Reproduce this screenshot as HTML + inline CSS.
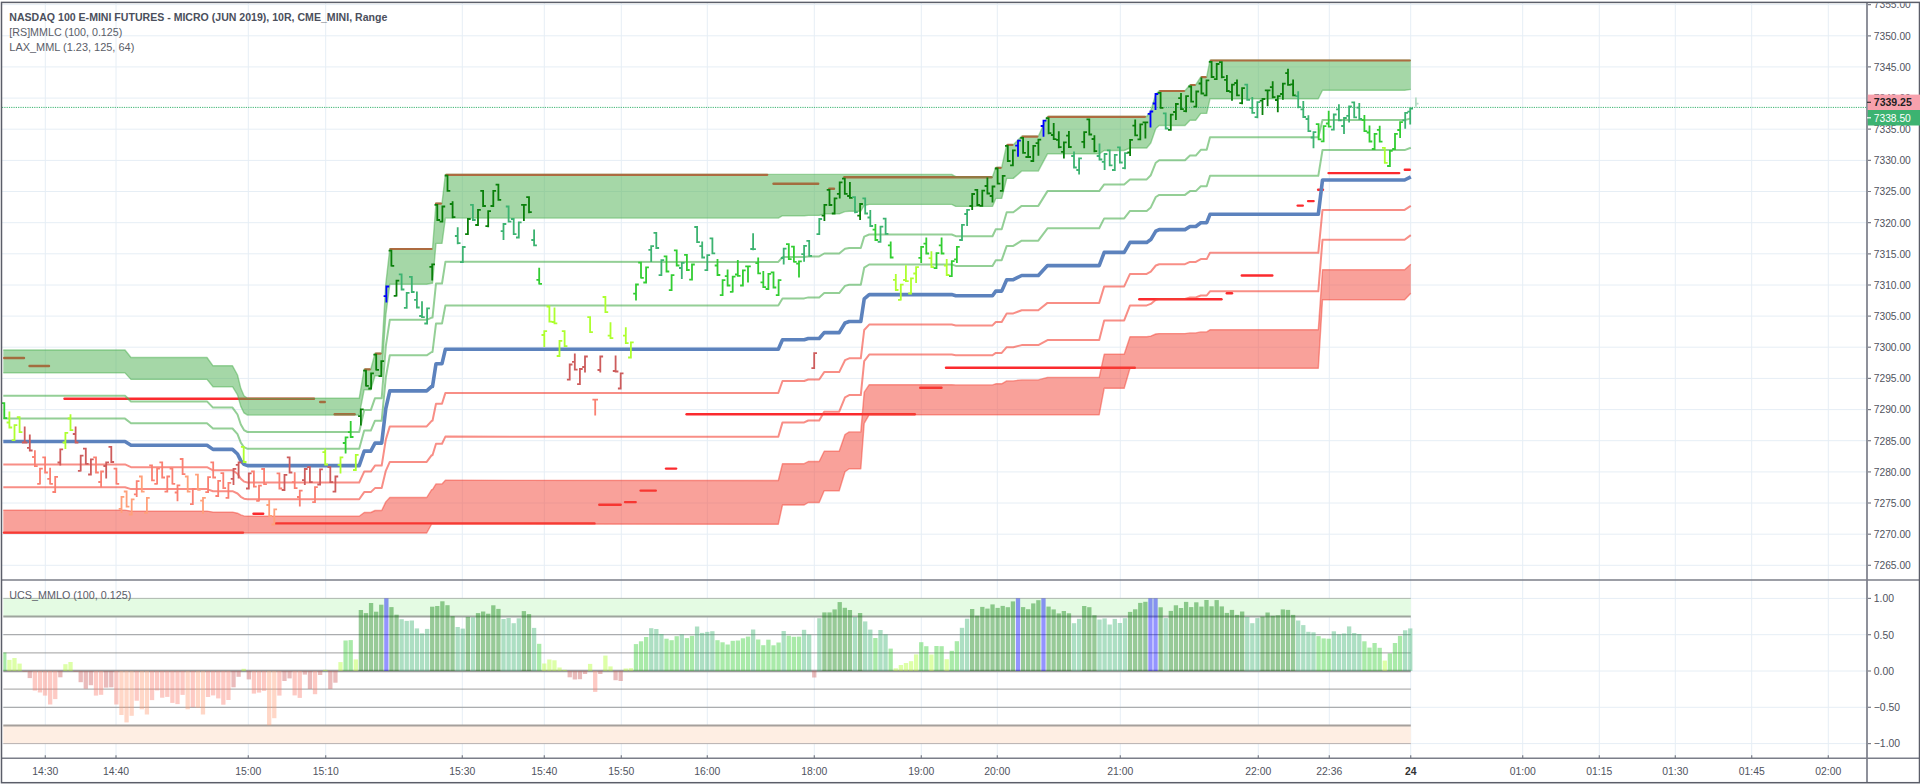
<!DOCTYPE html>
<html><head><meta charset="utf-8"><title>NASDAQ 100 E-MINI FUTURES chart</title>
<style>html,body{margin:0;padding:0;background:#fff;overflow:hidden}body{width:1920px;height:784px}</style></head>
<body>
<svg width="1920" height="784" viewBox="0 0 1920 784" style="display:block;font-family:'Liberation Sans',sans-serif">
<rect width="1920" height="784" fill="#fff"/>
<g stroke="#e6eef5" stroke-width="1" fill="none">
<path d="M45.3 3V758.2"/>
<path d="M116.0 3V758.2"/>
<path d="M248.3 3V758.2"/>
<path d="M325.7 3V758.2"/>
<path d="M462.3 3V758.2"/>
<path d="M544.3 3V758.2"/>
<path d="M621.3 3V758.2"/>
<path d="M707.3 3V758.2"/>
<path d="M814.3 3V758.2"/>
<path d="M921.3 3V758.2"/>
<path d="M997.3 3V758.2"/>
<path d="M1120.3 3V758.2"/>
<path d="M1258.3 3V758.2"/>
<path d="M1329.3 3V758.2"/>
<path d="M1410.7 3V758.2"/>
<path d="M1522.7 3V758.2"/>
<path d="M1599.3 3V758.2"/>
<path d="M1675.3 3V758.2"/>
<path d="M1751.7 3V758.2"/>
<path d="M1828.3 3V758.2"/>
<path d="M2 565.3H1867.0"/>
<path d="M2 534.2H1867.0"/>
<path d="M2 503.0H1867.0"/>
<path d="M2 471.9H1867.0"/>
<path d="M2 440.7H1867.0"/>
<path d="M2 409.6H1867.0"/>
<path d="M2 378.4H1867.0"/>
<path d="M2 347.2H1867.0"/>
<path d="M2 316.1H1867.0"/>
<path d="M2 285.0H1867.0"/>
<path d="M2 253.8H1867.0"/>
<path d="M2 222.7H1867.0"/>
<path d="M2 191.5H1867.0"/>
<path d="M2 160.4H1867.0"/>
<path d="M2 129.2H1867.0"/>
<path d="M2 98.1H1867.0"/>
<path d="M2 66.9H1867.0"/>
<path d="M2 35.8H1867.0"/>
<path d="M2 4.6H1867.0"/>
<path d="M2 598.4H1867.0"/>
<path d="M2 634.7H1867.0"/>
<path d="M2 671.0H1867.0"/>
<path d="M2 707.3H1867.0"/>
<path d="M2 743.6H1867.0"/>
</g>
<g id="main">
<g stroke="#fb2a2e" stroke-width="2.4" stroke-linecap="round" fill="none">
<path d="M4.3 358.0H24.0"/>
<path d="M29.5 366.0H49.0"/>
<path d="M64.5 398.7H314.0"/>
<path d="M320.2 402.0H324.8"/>
<path d="M334.7 414.2H354.6"/>
<path d="M773.5 183.7H818.2"/>
<path d="M829.3 188.8H834.0"/>
<path d="M844.3 177.2H991.5"/>
<path d="M4.0 532.6H243.0"/>
<path d="M253.5 513.8H263.2"/>
<path d="M276.0 523.4H594.5"/>
<path d="M599.3 504.8H620.7"/>
<path d="M625.0 502.1H635.7"/>
<path d="M640.6 490.6H655.8"/>
<path d="M666.0 468.6H676.1"/>
<path d="M686.6 414.3H914.8"/>
<path d="M920.2 387.8H941.5"/>
<path d="M946.0 367.8H1134.8"/>
<path d="M1139.3 299.2H1221.5"/>
<path d="M1226.8 293.3H1232.0"/>
<path d="M1241.8 275.5H1272.3"/>
<path d="M1297.7 205.6H1302.8"/>
<path d="M1308.1 201.1H1313.6"/>
<path d="M1318.1 189.8H1323.0"/>
<path d="M1328.5 173.1H1399.2"/>
<path d="M1404.8 169.8H1409.8"/>
</g>
<polygon points="3.3,350.0 125.0,350.0 131.0,357.5 207.0,357.5 213.0,365.8 232.5,365.8 237.5,375.0 240.8,388.3 244.0,395.8 247.5,398.3 359.2,398.3 364.2,369.2 370.8,369.2 375.0,353.3 381.7,353.3 385.8,284.0 389.8,248.8 426.7,248.8 431.7,248.8 432.5,248.8 436.0,203.3 442.0,203.3 445.4,174.4 778.3,174.4 782.5,174.4 804.2,174.4 808.3,174.4 819.2,174.4 824.2,174.4 839.2,174.4 845.0,174.4 849.2,174.4 860.8,174.4 864.2,174.4 869.2,174.4 951.7,174.4 955.8,176.7 992.5,176.7 995.8,167.5 1001.7,167.5 1006.7,144.7 1013.3,144.7 1021.7,136.3 1038.3,136.3 1047.5,116.5 1099.2,116.5 1104.2,116.5 1124.2,116.5 1130.0,116.5 1146.7,116.5 1150.8,110.8 1155.8,94.2 1159.2,90.8 1185.0,90.8 1190.0,84.7 1195.8,84.7 1200.8,77.0 1206.7,77.0 1210.0,60.3 1318.3,60.3 1322.5,60.3 1404.6,60.3 1410.8,60.3 1410.8,89.4 1404.6,90.2 1322.5,90.2 1318.3,98.8 1210.0,98.8 1206.7,113.4 1200.8,113.4 1195.8,120.2 1190.0,120.2 1185.0,125.5 1159.2,125.5 1155.8,128.5 1150.8,143.0 1146.7,148.0 1130.0,148.0 1124.2,150.5 1104.2,150.5 1099.2,153.8 1047.5,153.8 1038.3,171.1 1021.7,171.1 1013.3,178.4 1006.7,178.4 1001.7,198.4 995.8,198.4 992.5,206.4 955.8,206.4 951.7,204.4 869.2,204.4 864.2,205.5 860.8,211.2 849.2,211.2 845.0,211.6 839.2,213.9 824.2,213.9 819.2,215.4 808.3,215.4 804.2,215.7 782.5,215.7 778.3,218.1 445.4,218.1 442.0,243.4 436.0,243.4 432.5,283.2 431.7,283.2 426.7,284.3 389.8,284.3 385.8,315.1 381.7,375.8 375.0,375.8 370.8,389.7 364.2,389.7 359.2,415.1 247.5,415.1 244.0,412.9 240.8,406.4 237.5,394.8 232.5,386.7 213.0,386.7 207.0,379.4 131.0,379.4 125.0,372.9 3.3,372.9" fill="rgba(76,175,80,0.5)"/>
<polygon points="3.3,510.1 125.0,510.1 131.0,511.1 207.0,511.1 213.0,512.1 232.5,512.1 237.5,513.2 240.8,514.9 244.0,515.9 247.5,516.2 359.2,516.2 364.2,512.5 370.8,512.5 375.0,510.5 381.7,510.5 385.8,501.9 389.8,497.5 426.7,497.5 431.7,489.6 432.5,489.6 436.0,483.9 442.0,483.9 445.4,480.3 778.3,480.5 782.5,463.7 804.2,463.7 808.3,461.5 819.2,461.5 824.2,451.2 839.2,451.2 845.0,434.5 849.2,431.9 860.8,431.9 864.2,392.2 869.2,384.7 951.7,384.7 955.8,384.9 992.5,384.9 995.8,383.8 1001.7,383.8 1006.7,380.9 1013.3,380.9 1021.7,379.9 1038.3,379.9 1047.5,377.4 1099.2,377.4 1104.2,354.3 1124.2,354.3 1130.0,336.8 1146.7,336.8 1150.8,336.1 1155.8,334.0 1159.2,333.6 1185.0,333.6 1190.0,332.9 1195.8,332.9 1200.8,331.9 1206.7,331.9 1210.0,329.8 1318.3,329.8 1322.5,269.8 1404.6,269.8 1410.8,264.2 1410.8,293.3 1404.6,299.7 1322.5,299.7 1318.3,368.3 1210.0,368.3 1206.7,368.3 1200.8,368.3 1195.8,368.3 1190.0,368.3 1185.0,368.3 1159.2,368.3 1155.8,368.3 1150.8,368.3 1146.7,368.3 1130.0,368.3 1124.2,388.3 1104.2,388.3 1099.2,414.7 1047.5,414.7 1038.3,414.7 1021.7,414.7 1013.3,414.7 1006.7,414.7 1001.7,414.7 995.8,414.7 992.5,414.7 955.8,414.7 951.7,414.7 869.2,414.7 864.2,423.3 860.8,468.7 849.2,468.7 845.0,471.7 839.2,490.8 824.2,490.8 819.2,502.5 808.3,502.5 804.2,505.0 782.5,505.0 778.3,524.2 445.4,524.0 442.0,524.0 436.0,524.0 432.5,524.0 431.7,524.0 426.7,533.0 389.8,533.0 385.8,533.0 381.7,533.0 375.0,533.0 370.8,533.0 364.2,533.0 359.2,533.0 247.5,533.0 244.0,533.0 240.8,533.0 237.5,533.0 232.5,533.0 213.0,533.0 207.0,533.0 131.0,533.0 125.0,533.0 3.3,533.0" fill="rgba(244,67,54,0.5)"/>
<polyline points="3.3,350.0 125.0,350.0 131.0,357.5 207.0,357.5 213.0,365.8 232.5,365.8 237.5,375.0 240.8,388.3 244.0,395.8 247.5,398.3 359.2,398.3 364.2,369.2 370.8,369.2 375.0,353.3 381.7,353.3 385.8,284.0 389.8,248.8 426.7,248.8 431.7,248.8 432.5,248.8 436.0,203.3 442.0,203.3 445.4,174.4 778.3,174.4 782.5,174.4 804.2,174.4 808.3,174.4 819.2,174.4 824.2,174.4 839.2,174.4 845.0,174.4 849.2,174.4 860.8,174.4 864.2,174.4 869.2,174.4 951.7,174.4 955.8,176.7 992.5,176.7 995.8,167.5 1001.7,167.5 1006.7,144.7 1013.3,144.7 1021.7,136.3 1038.3,136.3 1047.5,116.5 1099.2,116.5 1104.2,116.5 1124.2,116.5 1130.0,116.5 1146.7,116.5 1150.8,110.8 1155.8,94.2 1159.2,90.8 1185.0,90.8 1190.0,84.7 1195.8,84.7 1200.8,77.0 1206.7,77.0 1210.0,60.3 1318.3,60.3 1322.5,60.3 1404.6,60.3 1410.8,60.3" fill="none" stroke="rgba(76,175,80,0.5)" stroke-width="1.4" stroke-linejoin="round"/>
<polyline points="3.3,372.9 125.0,372.9 131.0,379.4 207.0,379.4 213.0,386.7 232.5,386.7 237.5,394.8 240.8,406.4 244.0,412.9 247.5,415.1 359.2,415.1 364.2,389.7 370.8,389.7 375.0,375.8 381.7,375.8 385.8,315.1 389.8,284.3 426.7,284.3 431.7,283.2 432.5,283.2 436.0,243.4 442.0,243.4 445.4,218.1 778.3,218.1 782.5,215.7 804.2,215.7 808.3,215.4 819.2,215.4 824.2,213.9 839.2,213.9 845.0,211.6 849.2,211.2 860.8,211.2 864.2,205.5 869.2,204.4 951.7,204.4 955.8,206.4 992.5,206.4 995.8,198.4 1001.7,198.4 1006.7,178.4 1013.3,178.4 1021.7,171.1 1038.3,171.1 1047.5,153.8 1099.2,153.8 1104.2,150.5 1124.2,150.5 1130.0,148.0 1146.7,148.0 1150.8,143.0 1155.8,128.5 1159.2,125.5 1185.0,125.5 1190.0,120.2 1195.8,120.2 1200.8,113.4 1206.7,113.4 1210.0,98.8 1318.3,98.8 1322.5,90.2 1404.6,90.2 1410.8,89.4" fill="none" stroke="rgba(76,175,80,0.5)" stroke-width="1.4" stroke-linejoin="round"/>
<polyline points="3.3,510.1 125.0,510.1 131.0,511.1 207.0,511.1 213.0,512.1 232.5,512.1 237.5,513.2 240.8,514.9 244.0,515.9 247.5,516.2 359.2,516.2 364.2,512.5 370.8,512.5 375.0,510.5 381.7,510.5 385.8,501.9 389.8,497.5 426.7,497.5 431.7,489.6 432.5,489.6 436.0,483.9 442.0,483.9 445.4,480.3 778.3,480.5 782.5,463.7 804.2,463.7 808.3,461.5 819.2,461.5 824.2,451.2 839.2,451.2 845.0,434.5 849.2,431.9 860.8,431.9 864.2,392.2 869.2,384.7 951.7,384.7 955.8,384.9 992.5,384.9 995.8,383.8 1001.7,383.8 1006.7,380.9 1013.3,380.9 1021.7,379.9 1038.3,379.9 1047.5,377.4 1099.2,377.4 1104.2,354.3 1124.2,354.3 1130.0,336.8 1146.7,336.8 1150.8,336.1 1155.8,334.0 1159.2,333.6 1185.0,333.6 1190.0,332.9 1195.8,332.9 1200.8,331.9 1206.7,331.9 1210.0,329.8 1318.3,329.8 1322.5,269.8 1404.6,269.8 1410.8,264.2" fill="none" stroke="rgba(244,67,54,0.5)" stroke-width="1.4" stroke-linejoin="round"/>
<polyline points="3.3,533.0 125.0,533.0 131.0,533.0 207.0,533.0 213.0,533.0 232.5,533.0 237.5,533.0 240.8,533.0 244.0,533.0 247.5,533.0 359.2,533.0 364.2,533.0 370.8,533.0 375.0,533.0 381.7,533.0 385.8,533.0 389.8,533.0 426.7,533.0 431.7,524.0 432.5,524.0 436.0,524.0 442.0,524.0 445.4,524.0 778.3,524.2 782.5,505.0 804.2,505.0 808.3,502.5 819.2,502.5 824.2,490.8 839.2,490.8 845.0,471.7 849.2,468.7 860.8,468.7 864.2,423.3 869.2,414.7 951.7,414.7 955.8,414.7 992.5,414.7 995.8,414.7 1001.7,414.7 1006.7,414.7 1013.3,414.7 1021.7,414.7 1038.3,414.7 1047.5,414.7 1099.2,414.7 1104.2,388.3 1124.2,388.3 1130.0,368.3 1146.7,368.3 1150.8,368.3 1155.8,368.3 1159.2,368.3 1185.0,368.3 1190.0,368.3 1195.8,368.3 1200.8,368.3 1206.7,368.3 1210.0,368.3 1318.3,368.3 1322.5,299.7 1404.6,299.7 1410.8,293.3" fill="none" stroke="rgba(244,67,54,0.5)" stroke-width="1.4" stroke-linejoin="round"/>
<polyline points="3.3,395.8 125.0,395.8 131.0,401.4 207.0,401.4 213.0,407.6 232.5,407.6 237.5,414.5 240.8,424.5 244.0,430.1 247.5,432.0 359.2,432.0 364.2,410.1 370.8,410.1 375.0,398.2 381.7,398.2 385.8,346.2 389.8,319.8 426.7,319.8 431.7,317.6 432.5,317.6 436.0,283.5 442.0,283.5 445.4,261.8 778.3,261.9 782.5,257.1 804.2,257.1 808.3,256.4 819.2,256.4 824.2,253.5 839.2,253.5 845.0,248.7 849.2,248.0 860.8,248.0 864.2,236.6 869.2,234.5 951.7,234.5 955.8,236.2 992.5,236.2 995.8,229.3 1001.7,229.3 1006.7,212.2 1013.3,212.2 1021.7,205.9 1038.3,205.9 1047.5,191.1 1099.2,191.1 1104.2,184.4 1124.2,184.4 1130.0,179.4 1146.7,179.4 1150.8,175.2 1155.8,162.7 1159.2,160.2 1185.0,160.2 1190.0,155.6 1195.8,155.6 1200.8,149.8 1206.7,149.8 1210.0,137.3 1318.3,137.3 1322.5,120.1 1404.6,120.1 1410.8,118.5" fill="none" stroke="rgba(76,175,80,0.6)" stroke-width="2" stroke-linejoin="round"/>
<polyline points="3.3,418.6 125.0,418.6 131.0,423.3 207.0,423.3 213.0,428.5 232.5,428.5 237.5,434.2 240.8,442.6 244.0,447.2 247.5,448.8 359.2,448.8 364.2,430.6 370.8,430.6 375.0,420.7 381.7,420.7 385.8,377.4 389.8,355.3 426.7,355.3 431.7,352.0 432.5,352.0 436.0,323.6 442.0,323.6 445.4,305.5 778.3,305.6 782.5,298.4 804.2,298.4 808.3,297.4 819.2,297.4 824.2,293.1 839.2,293.1 845.0,285.9 849.2,284.8 860.8,284.8 864.2,267.7 869.2,264.5 951.7,264.5 955.8,265.9 992.5,265.9 995.8,260.2 1001.7,260.2 1006.7,245.9 1013.3,245.9 1021.7,240.7 1038.3,240.7 1047.5,228.3 1099.2,228.3 1104.2,218.4 1124.2,218.4 1130.0,210.9 1146.7,210.9 1150.8,207.4 1155.8,197.0 1159.2,194.9 1185.0,194.9 1190.0,191.1 1195.8,191.1 1200.8,186.2 1206.7,186.2 1210.0,175.8 1318.3,175.8 1322.5,150.1 1404.6,150.1 1410.8,147.7" fill="none" stroke="rgba(76,175,80,0.6)" stroke-width="2" stroke-linejoin="round"/>
<polyline points="3.3,464.4 125.0,464.4 131.0,467.2 207.0,467.2 213.0,470.3 232.5,470.3 237.5,473.8 240.8,478.7 244.0,481.6 247.5,482.5 359.2,482.5 364.2,471.6 370.8,471.6 375.0,465.6 381.7,465.6 385.8,439.6 389.8,426.4 426.7,426.4 431.7,420.8 432.5,420.8 436.0,403.7 442.0,403.7 445.4,392.9 778.3,393.0 782.5,381.0 804.2,381.0 808.3,379.5 819.2,379.5 824.2,372.1 839.2,372.1 845.0,360.2 849.2,358.3 860.8,358.3 864.2,330.0 869.2,324.6 951.7,324.6 955.8,325.4 992.5,325.4 995.8,322.0 1001.7,322.0 1006.7,313.4 1013.3,313.4 1021.7,310.3 1038.3,310.3 1047.5,302.9 1099.2,302.9 1104.2,286.4 1124.2,286.4 1130.0,273.9 1146.7,273.9 1150.8,271.7 1155.8,265.5 1159.2,264.2 1185.0,264.2 1190.0,261.9 1195.8,261.9 1200.8,259.1 1206.7,259.1 1210.0,252.8 1318.3,252.8 1322.5,209.9 1404.6,209.9 1410.8,205.9" fill="none" stroke="rgba(244,67,54,0.6)" stroke-width="2" stroke-linejoin="round"/>
<polyline points="3.3,487.2 125.0,487.2 131.0,489.1 207.0,489.1 213.0,491.2 232.5,491.2 237.5,493.5 240.8,496.8 244.0,498.7 247.5,499.3 359.2,499.3 364.2,492.1 370.8,492.1 375.0,488.1 381.7,488.1 385.8,470.8 389.8,461.9 426.7,461.9 431.7,455.2 432.5,455.2 436.0,443.8 442.0,443.8 445.4,436.6 778.3,436.8 782.5,422.4 804.2,422.4 808.3,420.5 819.2,420.5 824.2,411.7 839.2,411.7 845.0,397.4 849.2,395.1 860.8,395.1 864.2,361.1 869.2,354.6 951.7,354.6 955.8,355.2 992.5,355.2 995.8,352.9 1001.7,352.9 1006.7,347.2 1013.3,347.2 1021.7,345.1 1038.3,345.1 1047.5,340.1 1099.2,340.1 1104.2,320.4 1124.2,320.4 1130.0,305.4 1146.7,305.4 1150.8,303.9 1155.8,299.8 1159.2,298.9 1185.0,298.9 1190.0,297.4 1195.8,297.4 1200.8,295.5 1206.7,295.5 1210.0,291.3 1318.3,291.3 1322.5,239.8 1404.6,239.8 1410.8,235.1" fill="none" stroke="rgba(244,67,54,0.6)" stroke-width="2" stroke-linejoin="round"/>
<g stroke="#ad6b40" stroke-width="2.2" stroke-linecap="round" fill="none">
<path d="M365.2 369.4H369.8"/>
<path d="M376.0 353.6H380.7"/>
<path d="M390.5 249.0H431.5"/>
<path d="M436.0 203.6H441.0"/>
<path d="M446.4 174.8H767.3"/>
<path d="M996.8 167.8H1000.7"/>
<path d="M1007.7 144.9H1012.3"/>
<path d="M1022.7 136.6H1037.3"/>
<path d="M1048.5 116.8H1145.0"/>
<path d="M1160.2 91.0H1184.0"/>
<path d="M1191.0 85.0H1194.8"/>
<path d="M1201.8 77.2H1205.7"/>
<path d="M1211.0 60.5H1409.8"/>
</g>
<polyline points="3.3,441.5 125.0,441.5 131.0,445.2 207.0,445.2 213.0,449.4 232.5,449.4 237.5,454.0 240.8,460.6 244.0,464.4 247.5,465.6 359.2,465.6 364.2,451.1 370.8,451.1 375.0,443.1 381.7,443.1 385.8,408.5 389.8,390.9 426.7,390.9 431.7,386.4 432.5,386.4 436.0,363.7 442.0,363.7 445.4,349.2 778.3,349.3 782.5,339.7 804.2,339.7 808.3,338.5 819.2,338.5 824.2,332.6 839.2,332.6 845.0,323.0 849.2,321.5 860.8,321.5 864.2,298.9 869.2,294.6 951.7,294.6 955.8,295.7 992.5,295.7 995.8,291.1 1001.7,291.1 1006.7,279.7 1013.3,279.7 1021.7,275.5 1038.3,275.5 1047.5,265.6 1099.2,265.6 1104.2,252.4 1124.2,252.4 1130.0,242.4 1146.7,242.4 1150.8,239.6 1155.8,231.2 1159.2,229.6 1185.0,229.6 1190.0,226.5 1195.8,226.5 1200.8,222.7 1206.7,222.7 1210.0,214.3 1318.3,214.3 1322.5,180.0 1404.6,180.0 1410.8,176.8" fill="none" stroke="#5c82bd" stroke-width="3.6" stroke-linejoin="round"/>
<path d="M2 107.4H1867.0" stroke="#3cb371" stroke-width="1" stroke-dasharray="1.2 1.1" fill="none"/>
<g fill="none" stroke-width="1.8">
<path stroke="#32cd32" d="M4.3 402.2V419.1M1.5 403.1H4.3M4.3 418.2H7.1"/>
<path stroke="#adff2f" d="M9.4 411.5V428.4M6.6 422.5H9.4M9.4 427.5H12.2"/>
<path stroke="#adff2f" d="M14.5 424.2V441.1M11.7 440.2H14.5M14.5 425.1H17.3"/>
<path stroke="#adff2f" d="M19.6 416.2V433.1M16.8 417.1H19.6M19.6 432.2H22.4"/>
<path stroke="#cd5c5c" d="M24.7 426.5V443.4M21.9 442.5H24.7M24.7 442.5H27.5"/>
<path stroke="#cd5c5c" d="M29.8 434.5V451.4M27.0 447.8H29.8M29.8 450.5H32.6"/>
<path stroke="#fa8072" d="M34.9 450.2V467.1M32.1 457.0H34.9M34.9 466.2H37.7"/>
<path stroke="#fa8072" d="M40.0 467.8V484.6M37.2 483.8H40.0M40.0 468.6H42.8"/>
<path stroke="#fa8072" d="M45.1 456.5V473.4M42.3 457.4H45.1M45.1 472.5H47.9"/>
<path stroke="#fa8072" d="M50.1 467.8V484.6M47.3 478.8H50.1M50.1 483.8H52.9"/>
<path stroke="#fa8072" d="M55.2 476.0V492.9M52.4 492.0H55.2M55.2 476.9H58.0"/>
<path stroke="#cd5c5c" d="M60.3 448.5V465.4M57.5 462.5H60.3M60.3 449.4H63.1"/>
<path stroke="#adff2f" d="M65.4 432.0V448.9M62.6 442.5H65.4M65.4 432.9H68.2"/>
<path stroke="#adff2f" d="M70.5 414.2V431.1M67.7 418.5H70.5M70.5 430.2H73.3"/>
<path stroke="#cd5c5c" d="M75.6 426.5V443.4M72.8 434.0H75.6M75.6 442.5H78.4"/>
<path stroke="#cd5c5c" d="M80.7 454.8V471.6M77.9 470.8H80.7M80.7 455.6H83.5"/>
<path stroke="#cd5c5c" d="M85.8 447.8V464.6M83.0 448.6H85.8M85.8 463.8H88.6"/>
<path stroke="#cd5c5c" d="M90.9 458.5V475.4M88.1 474.5H90.9M90.9 459.4H93.7"/>
<path stroke="#fa8072" d="M96.0 456.5V473.4M93.2 457.4H96.0M96.0 472.5H98.8"/>
<path stroke="#fa8072" d="M101.1 470.6V487.5M98.3 482.0H101.1M101.1 471.5H103.9"/>
<path stroke="#cd5c5c" d="M106.2 461.5V478.4M103.4 466.0H106.2M106.2 462.4H109.0"/>
<path stroke="#cd5c5c" d="M111.3 446.0V462.9M108.5 446.9H111.3M111.3 462.0H114.1"/>
<path stroke="#fa8072" d="M116.4 467.8V484.6M113.6 468.6H116.4M116.4 483.8H119.2"/>
<path stroke="#ffa07a" d="M121.5 496.0V512.9M118.7 508.8H121.5M121.5 496.9H124.3"/>
<path stroke="#ffa07a" d="M126.6 490.6V507.5M123.8 491.5H126.6M126.6 506.6H129.4"/>
<path stroke="#ffa07a" d="M131.7 498.5V515.4M128.8 514.5H131.7M131.7 499.4H134.5"/>
<path stroke="#fa8072" d="M136.7 480.2V497.1M133.9 494.4H136.7M136.7 481.1H139.5"/>
<path stroke="#ffa07a" d="M141.8 475.6V492.5M139.0 476.5H141.8M141.8 491.6H144.6"/>
<path stroke="#ffa07a" d="M146.9 496.9V513.8M144.1 512.9H146.9M146.9 497.8H149.7"/>
<path stroke="#fa8072" d="M152.0 464.4V481.3M149.2 465.3H152.0M152.0 480.4H154.8"/>
<path stroke="#fa8072" d="M157.1 467.8V484.6M154.3 483.8H157.1M157.1 468.6H159.9"/>
<path stroke="#fa8072" d="M162.2 461.5V478.4M159.4 462.4H162.2M162.2 477.5H165.0"/>
<path stroke="#fa8072" d="M167.3 475.6V492.5M164.5 491.6H167.3M167.3 476.5H170.1"/>
<path stroke="#fa8072" d="M172.4 467.8V484.6M169.6 468.6H172.4M172.4 483.8H175.2"/>
<path stroke="#fa8072" d="M177.5 484.4V501.3M174.7 492.5H177.5M177.5 485.3H180.3"/>
<path stroke="#fa8072" d="M182.6 458.1V475.0M179.8 459.0H182.6M182.6 474.1H185.4"/>
<path stroke="#ffa07a" d="M187.7 475.6V492.5M184.9 476.5H187.7M187.7 491.6H190.5"/>
<path stroke="#fa8072" d="M192.8 488.1V505.0M190.0 504.1H192.8M192.8 489.0H195.6"/>
<path stroke="#ffa07a" d="M197.9 473.8V490.6M195.1 474.6H197.9M197.9 489.8H200.7"/>
<path stroke="#ffa07a" d="M203.0 496.9V513.8M200.2 500.6H203.0M203.0 497.8H205.8"/>
<path stroke="#fa8072" d="M208.1 476.2V493.1M205.3 492.2H208.1M208.1 477.1H210.9"/>
<path stroke="#fa8072" d="M213.2 461.5V478.4M210.4 462.4H213.2M213.2 477.5H216.0"/>
<path stroke="#fa8072" d="M218.2 480.0V496.9M215.4 496.0H218.2M218.2 480.9H221.0"/>
<path stroke="#fa8072" d="M223.3 472.2V489.1M220.5 473.1H223.3M223.3 488.2H226.1"/>
<path stroke="#fa8072" d="M228.4 481.9V498.8M225.6 497.9H228.4M228.4 482.8H231.2"/>
<path stroke="#cd5c5c" d="M233.5 468.0V484.9M230.7 478.8H233.5M233.5 468.9H236.3"/>
<path stroke="#cd5c5c" d="M238.6 461.5V478.4M235.8 464.8H238.6M238.6 462.4H241.4"/>
<path stroke="#adff2f" d="M243.7 446.0V462.9M240.9 446.9H243.7M243.7 462.0H246.5"/>
<path stroke="#cd5c5c" d="M248.8 472.5V489.4M246.0 488.5H248.8M248.8 473.4H251.6"/>
<path stroke="#fa8072" d="M253.9 470.6V487.5M251.1 471.5H253.9M253.9 486.6H256.7"/>
<path stroke="#fa8072" d="M259.0 484.8V501.6M256.2 500.8H259.0M259.0 485.6H261.8"/>
<path stroke="#fa8072" d="M264.1 468.1V485.0M261.3 469.0H264.1M264.1 484.1H266.9"/>
<path stroke="#ffa07a" d="M269.2 500.0V516.9M266.4 505.0H269.2M269.2 516.0H272.0"/>
<path stroke="#ffa07a" d="M274.3 508.5V525.4M271.5 524.5H274.3M274.3 509.4H277.1"/>
<path stroke="#fa8072" d="M279.4 472.5V489.4M276.6 473.4H279.4M279.4 488.5H282.2"/>
<path stroke="#cd5c5c" d="M284.5 474.0V490.9M281.7 490.0H284.5M284.5 474.9H287.3"/>
<path stroke="#cd5c5c" d="M289.6 456.5V473.4M286.8 457.4H289.6M289.6 472.5H292.4"/>
<path stroke="#fa8072" d="M294.7 472.2V489.1M291.9 482.2H294.7M294.7 488.2H297.5"/>
<path stroke="#fa8072" d="M299.8 489.8V506.6M297.0 497.0H299.8M299.8 490.6H302.6"/>
<path stroke="#cd5c5c" d="M304.8 468.1V485.0M302.0 480.2H304.8M304.8 469.0H307.6"/>
<path stroke="#cd5c5c" d="M309.9 466.2V483.1M307.1 467.1H309.9M309.9 482.2H312.7"/>
<path stroke="#fa8072" d="M315.0 486.2V503.1M312.2 502.2H315.0M315.0 487.1H317.8"/>
<path stroke="#cd5c5c" d="M320.1 468.5V485.4M317.3 484.5H320.1M320.1 469.4H322.9"/>
<path stroke="#adff2f" d="M325.2 448.5V465.4M322.4 452.2H325.2M325.2 464.5H328.0"/>
<path stroke="#cd5c5c" d="M330.3 466.2V483.1M327.5 467.1H330.3M330.3 482.2H333.1"/>
<path stroke="#cd5c5c" d="M335.4 475.6V492.5M332.6 491.6H335.4M335.4 476.5H338.2"/>
<path stroke="#adff2f" d="M340.5 456.5V473.4M337.7 464.8H340.5M340.5 457.4H343.3"/>
<path stroke="#32cd32" d="M345.6 436.5V453.4M342.8 443.0H345.6M345.6 437.4H348.4"/>
<path stroke="#32cd32" d="M350.7 421.0V437.9M347.9 432.2H350.7M350.7 437.0H353.5"/>
<path stroke="#adff2f" d="M355.8 454.0V470.9M353.0 470.0H355.8M355.8 454.9H358.6"/>
<path stroke="#0a800a" d="M360.9 408.5V425.4M358.1 416.2H360.9M360.9 409.4H363.7"/>
<path stroke="#0a800a" d="M366.0 369.8V386.6M363.2 370.6H366.0M366.0 385.8H368.8"/>
<path stroke="#0a800a" d="M371.1 372.5V389.4M368.3 388.5H371.1M371.1 373.4H373.9"/>
<path stroke="#0a800a" d="M376.2 353.8V370.6M373.4 354.6H376.2M376.2 369.8H379.0"/>
<path stroke="#0a800a" d="M381.3 360.2V377.1M378.5 376.2H381.3M381.3 361.1H384.1"/>
<path stroke="#0000ff" d="M386.4 285.6V302.5M383.6 296.2H386.4M386.4 286.5H389.2"/>
<path stroke="#0a800a" d="M391.4 249.8V266.6M388.6 250.7H391.4M391.4 265.8H394.2"/>
<path stroke="#0a800a" d="M396.5 279.8V296.6M393.7 295.8H396.5M396.5 280.6H399.3"/>
<path stroke="#3cb371" d="M401.6 273.5V290.4M398.8 274.4H401.6M401.6 289.5H404.4"/>
<path stroke="#3cb371" d="M406.7 291.9V308.8M403.9 307.9H406.7M406.7 292.8H409.5"/>
<path stroke="#3cb371" d="M411.8 276.0V292.9M409.0 276.9H411.8M411.8 292.0H414.6"/>
<path stroke="#3cb371" d="M416.9 291.5V308.4M414.1 299.8H416.9M416.9 307.5H419.7"/>
<path stroke="#3cb371" d="M422.0 301.2V318.1M419.2 316.0H422.0M422.0 317.2H424.8"/>
<path stroke="#3cb371" d="M427.1 307.5V324.4M424.3 323.5H427.1M427.1 308.4H429.9"/>
<path stroke="#0a800a" d="M432.2 263.5V280.4M429.4 266.9H432.2M432.2 264.4H435.0"/>
<path stroke="#0a800a" d="M437.3 204.0V220.9M434.5 204.9H437.3M437.3 220.0H440.1"/>
<path stroke="#0a800a" d="M442.4 205.6V222.5M439.6 221.6H442.4M442.4 206.5H445.2"/>
<path stroke="#0a800a" d="M447.5 174.8V191.7M444.7 175.7H447.5M447.5 190.8H450.3"/>
<path stroke="#0a800a" d="M452.6 201.2V218.2M449.8 204.0H452.6M452.6 217.2H455.4"/>
<path stroke="#3cb371" d="M457.7 227.2V244.2M454.9 236.0H457.7M457.7 243.2H460.5"/>
<path stroke="#3cb371" d="M462.8 246.1V263.0M460.0 262.1H462.8M462.8 247.0H465.6"/>
<path stroke="#0a800a" d="M467.9 218.1V235.0M465.1 234.1H467.9M467.9 219.0H470.7"/>
<path stroke="#3cb371" d="M472.9 204.0V220.9M470.1 204.9H472.9M472.9 220.0H475.7"/>
<path stroke="#0a800a" d="M478.0 209.0V225.9M475.2 225.0H478.0M478.0 209.9H480.8"/>
<path stroke="#0a800a" d="M483.1 190.0V206.9M480.3 190.9H483.1M483.1 206.0H485.9"/>
<path stroke="#0a800a" d="M488.2 210.2V227.2M485.4 226.2H488.2M488.2 211.2H491.0"/>
<path stroke="#0a800a" d="M493.3 190.0V206.9M490.5 206.0H493.3M493.3 190.9H496.1"/>
<path stroke="#0a800a" d="M498.4 183.8V200.7M495.6 184.7H498.4M498.4 199.8H501.2"/>
<path stroke="#3cb371" d="M503.5 223.1V240.0M500.7 231.2H503.5M503.5 224.0H506.3"/>
<path stroke="#3cb371" d="M508.6 205.6V222.5M505.8 206.5H508.6M508.6 221.6H511.4"/>
<path stroke="#3cb371" d="M513.7 218.1V235.0M510.9 219.0H513.7M513.7 234.1H516.5"/>
<path stroke="#3cb371" d="M518.8 221.5V238.4M516.0 237.5H518.8M518.8 222.4H521.6"/>
<path stroke="#0a800a" d="M523.9 204.0V220.9M521.1 204.9H523.9M523.9 204.9H526.7"/>
<path stroke="#0a800a" d="M529.0 196.2V213.2M526.2 197.2H529.0M529.0 212.2H531.8"/>
<path stroke="#3cb371" d="M534.1 229.4V246.3M531.3 240.0H534.1M534.1 245.4H536.9"/>
<path stroke="#32cd32" d="M539.2 267.8V284.6M536.4 279.8H539.2M539.2 283.8H542.0"/>
<path stroke="#adff2f" d="M544.3 330.2V347.1M541.5 335.0H544.3M544.3 331.1H547.1"/>
<path stroke="#adff2f" d="M549.4 305.6V322.5M546.6 306.5H549.4M549.4 321.6H552.2"/>
<path stroke="#adff2f" d="M554.5 307.4V324.3M551.7 322.0H554.5M554.5 323.4H557.3"/>
<path stroke="#adff2f" d="M559.5 340.0V356.9M556.7 356.0H559.5M559.5 340.9H562.3"/>
<path stroke="#adff2f" d="M564.6 330.2V347.1M561.8 331.1H564.6M564.6 346.2H567.4"/>
<path stroke="#cd5c5c" d="M569.7 363.6V380.5M566.9 379.6H569.7M569.7 364.5H572.5"/>
<path stroke="#cd5c5c" d="M574.8 353.6V370.5M572.0 361.9H574.8M574.8 369.6H577.6"/>
<path stroke="#cd5c5c" d="M579.9 368.1V385.0M577.1 384.1H579.9M579.9 369.0H582.7"/>
<path stroke="#cd5c5c" d="M585.0 355.6V372.5M582.2 367.0H585.0M585.0 356.5H587.8"/>
<path stroke="#adff2f" d="M590.1 316.2V333.1M587.3 317.1H590.1M590.1 332.2H592.9"/>
<path stroke="#fa8072" d="M595.2 398.8V415.6M592.4 399.6H595.2M595.2 399.6H598.0"/>
<path stroke="#cd5c5c" d="M600.3 355.6V372.5M597.5 370.0H600.3M600.3 356.5H603.1"/>
<path stroke="#adff2f" d="M605.4 296.1V313.0M602.6 297.0H605.4M605.4 312.1H608.2"/>
<path stroke="#adff2f" d="M610.5 322.2V339.1M607.7 335.6H610.5M610.5 338.2H613.3"/>
<path stroke="#cd5c5c" d="M615.6 355.5V372.4M612.8 371.0H615.6M615.6 371.5H618.4"/>
<path stroke="#cd5c5c" d="M620.7 372.5V389.4M617.9 388.5H620.7M620.7 373.4H623.5"/>
<path stroke="#adff2f" d="M625.8 327.2V344.1M623.0 335.6H625.8M625.8 343.2H628.6"/>
<path stroke="#adff2f" d="M630.9 341.5V358.4M628.1 357.5H630.9M630.9 342.4H633.7"/>
<path stroke="#32cd32" d="M636.0 283.6V300.5M633.2 293.6H636.0M636.0 284.5H638.8"/>
<path stroke="#32cd32" d="M641.0 261.8V278.6M638.2 262.6H641.0M641.0 277.8H643.8"/>
<path stroke="#32cd32" d="M646.1 266.5V283.4M643.3 282.5H646.1M646.1 267.4H648.9"/>
<path stroke="#3cb371" d="M651.2 245.2V262.1M648.4 249.9H651.2M651.2 246.2H654.0"/>
<path stroke="#3cb371" d="M656.3 232.0V248.9M653.5 232.9H656.3M656.3 248.0H659.1"/>
<path stroke="#3cb371" d="M661.4 259.2V276.1M658.6 275.2H661.4M661.4 260.1H664.2"/>
<path stroke="#32cd32" d="M666.5 255.5V272.4M663.7 256.4H666.5M666.5 271.5H669.3"/>
<path stroke="#32cd32" d="M671.6 274.2V291.1M668.8 290.2H671.6M671.6 275.1H674.4"/>
<path stroke="#32cd32" d="M676.7 249.5V266.4M673.9 250.4H676.7M676.7 265.5H679.5"/>
<path stroke="#3cb371" d="M681.8 262.0V278.9M679.0 268.0H681.8M681.8 262.9H684.6"/>
<path stroke="#32cd32" d="M686.9 254.0V270.9M684.1 254.9H686.9M686.9 270.0H689.7"/>
<path stroke="#32cd32" d="M692.0 263.6V280.5M689.2 279.6H692.0M692.0 264.5H694.8"/>
<path stroke="#3cb371" d="M697.1 226.1V243.0M694.3 227.0H697.1M697.1 242.1H699.9"/>
<path stroke="#3cb371" d="M702.2 241.5V258.4M699.4 246.1H702.2M702.2 257.5H705.0"/>
<path stroke="#3cb371" d="M707.3 254.2V271.1M704.5 270.2H707.3M707.3 255.2H710.1"/>
<path stroke="#3cb371" d="M712.4 237.4V254.3M709.6 238.3H712.4M712.4 253.4H715.2"/>
<path stroke="#32cd32" d="M717.5 259.0V275.9M714.7 265.5H717.5M717.5 275.0H720.3"/>
<path stroke="#32cd32" d="M722.6 279.2V296.1M719.8 295.2H722.6M722.6 280.1H725.4"/>
<path stroke="#32cd32" d="M727.6 269.5V286.4M724.8 276.1H727.6M727.6 285.5H730.4"/>
<path stroke="#32cd32" d="M732.7 275.8V292.6M729.9 291.8H732.7M732.7 276.6H735.5"/>
<path stroke="#32cd32" d="M737.8 259.9V276.8M735.0 274.5H737.8M737.8 275.9H740.6"/>
<path stroke="#32cd32" d="M742.9 269.5V286.4M740.1 285.5H742.9M742.9 270.4H745.7"/>
<path stroke="#32cd32" d="M748.0 265.5V282.4M745.2 266.4H748.0M748.0 266.4H750.8"/>
<path stroke="#3cb371" d="M753.1 233.2V250.2M750.3 249.0H753.1M753.1 249.2H755.9"/>
<path stroke="#32cd32" d="M758.2 257.4V274.3M755.4 263.2H758.2M758.2 273.4H761.0"/>
<path stroke="#32cd32" d="M763.3 271.1V288.0M760.5 282.4H763.3M763.3 287.1H766.1"/>
<path stroke="#32cd32" d="M768.4 273.0V289.9M765.6 289.0H768.4M768.4 273.9H771.2"/>
<path stroke="#32cd32" d="M773.5 271.5V288.4M770.7 272.4H773.5M773.5 287.5H776.3"/>
<path stroke="#32cd32" d="M778.6 279.2V296.1M775.8 295.2H778.6M778.6 280.1H781.4"/>
<path stroke="#3cb371" d="M783.7 247.8V264.6M780.9 258.0H783.7M783.7 248.7H786.5"/>
<path stroke="#32cd32" d="M788.8 243.2V260.1M786.0 244.2H788.8M788.8 259.2H791.6"/>
<path stroke="#32cd32" d="M793.9 245.8V262.6M791.1 246.7H793.9M793.9 261.8H796.7"/>
<path stroke="#32cd32" d="M799.0 260.5V277.4M796.2 263.6H799.0M799.0 261.4H801.8"/>
<path stroke="#3cb371" d="M804.1 244.9V261.8M801.3 254.2H804.1M804.1 245.8H806.9"/>
<path stroke="#3cb371" d="M809.2 239.9V256.8M806.4 240.8H809.2M809.2 255.9H812.0"/>
<path stroke="#cd5c5c" d="M814.2 352.2V369.1M811.4 368.2H814.2M814.2 353.1H817.0"/>
<path stroke="#3cb371" d="M819.3 218.1V235.0M816.5 234.1H819.3M819.3 219.0H822.1"/>
<path stroke="#0a800a" d="M824.4 204.0V220.9M821.6 215.6H824.4M824.4 204.9H827.2"/>
<path stroke="#0a800a" d="M829.5 189.0V205.9M826.7 189.9H829.5M829.5 205.0H832.3"/>
<path stroke="#0a800a" d="M834.6 197.5V214.4M831.8 213.5H834.6M834.6 198.4H837.4"/>
<path stroke="#0a800a" d="M839.7 181.5V198.4M836.9 193.8H839.7M839.7 182.4H842.5"/>
<path stroke="#0a800a" d="M844.8 177.8V194.7M842.0 178.7H844.8M844.8 193.8H847.6"/>
<path stroke="#0a800a" d="M849.9 181.9V198.8M847.1 196.0H849.9M849.9 197.9H852.7"/>
<path stroke="#3cb371" d="M855.0 196.2V213.2M852.2 197.2H855.0M855.0 212.2H857.8"/>
<path stroke="#0a800a" d="M860.1 203.1V220.0M857.3 215.6H860.1M860.1 204.0H862.9"/>
<path stroke="#3cb371" d="M865.2 197.5V214.4M862.4 198.4H865.2M865.2 213.5H868.0"/>
<path stroke="#3cb371" d="M870.3 210.0V226.9M867.5 217.5H870.3M870.3 226.0H873.1"/>
<path stroke="#32cd32" d="M875.4 224.0V240.9M872.6 229.6H875.4M875.4 240.0H878.2"/>
<path stroke="#3cb371" d="M880.5 225.8V242.7M877.7 241.8H880.5M880.5 226.7H883.3"/>
<path stroke="#3cb371" d="M885.6 217.8V234.7M882.8 218.7H885.6M885.6 233.8H888.4"/>
<path stroke="#32cd32" d="M890.7 241.5V258.4M887.9 245.4H890.7M890.7 257.5H893.5"/>
<path stroke="#adff2f" d="M895.8 274.0V290.9M893.0 279.8H895.8M895.8 290.0H898.5"/>
<path stroke="#adff2f" d="M900.8 283.8V300.6M898.0 299.8H900.8M900.8 284.6H903.6"/>
<path stroke="#adff2f" d="M905.9 265.2V282.1M903.1 280.0H905.9M905.9 281.2H908.7"/>
<path stroke="#adff2f" d="M911.0 277.5V294.4M908.2 293.5H911.0M911.0 278.4H913.8"/>
<path stroke="#adff2f" d="M916.1 266.2V283.1M913.3 273.5H916.1M916.1 267.1H918.9"/>
<path stroke="#32cd32" d="M921.2 246.0V262.9M918.4 257.8H921.2M921.2 246.9H924.0"/>
<path stroke="#32cd32" d="M926.3 237.5V254.4M923.5 243.6H926.3M926.3 253.5H929.1"/>
<path stroke="#adff2f" d="M931.4 251.2V268.1M928.6 258.1H931.4M931.4 267.2H934.2"/>
<path stroke="#32cd32" d="M936.5 252.2V269.1M933.7 268.2H936.5M936.5 253.2H939.3"/>
<path stroke="#32cd32" d="M941.6 237.5V254.4M938.8 245.4H941.6M941.6 253.5H944.4"/>
<path stroke="#adff2f" d="M946.7 259.0V275.9M943.9 265.6H946.7M946.7 275.0H949.5"/>
<path stroke="#32cd32" d="M951.8 260.2V277.1M949.0 276.2H951.8M951.8 261.1H954.6"/>
<path stroke="#32cd32" d="M956.9 246.0V262.9M954.1 259.4H956.9M956.9 246.9H959.7"/>
<path stroke="#3cb371" d="M962.0 224.0V240.9M959.2 240.0H962.0M962.0 224.9H964.8"/>
<path stroke="#3cb371" d="M967.1 209.0V225.9M964.3 214.0H967.1M967.1 209.9H969.9"/>
<path stroke="#0a800a" d="M972.2 193.1V210.0M969.4 206.0H972.2M972.2 194.0H975.0"/>
<path stroke="#0a800a" d="M977.3 189.0V205.9M974.5 189.9H977.3M977.3 205.0H980.1"/>
<path stroke="#0a800a" d="M982.3 189.8V206.7M979.5 205.8H982.3M982.3 190.7H985.1"/>
<path stroke="#0a800a" d="M987.4 177.5V194.4M984.6 186.0H987.4M987.4 193.5H990.2"/>
<path stroke="#0a800a" d="M992.5 185.6V202.5M989.7 196.0H992.5M992.5 186.5H995.3"/>
<path stroke="#0a800a" d="M997.6 167.6V184.5M994.8 168.5H997.6M997.6 183.6H1000.4"/>
<path stroke="#0a800a" d="M1002.7 174.9V191.8M999.9 190.9H1002.7M1002.7 175.8H1005.5"/>
<path stroke="#0a800a" d="M1007.8 145.0V161.9M1005.0 145.9H1007.8M1007.8 161.0H1010.6"/>
<path stroke="#0a800a" d="M1012.9 149.4V166.3M1010.1 165.4H1012.9M1012.9 150.3H1015.7"/>
<path stroke="#0000ff" d="M1018.0 139.8V156.7M1015.2 145.6H1018.0M1018.0 140.7H1020.8"/>
<path stroke="#0a800a" d="M1023.1 136.9V153.8M1020.3 137.8H1023.1M1023.1 152.9H1025.9"/>
<path stroke="#0a800a" d="M1028.2 141.0V157.9M1025.4 157.0H1028.2M1028.2 157.0H1031.0"/>
<path stroke="#0a800a" d="M1033.3 145.0V161.9M1030.5 161.0H1033.3M1033.3 145.9H1036.1"/>
<path stroke="#0a800a" d="M1038.4 138.8V155.7M1035.6 143.1H1038.4M1038.4 139.7H1041.2"/>
<path stroke="#0000ff" d="M1043.5 119.8V136.7M1040.7 126.0H1043.5M1043.5 120.7H1046.3"/>
<path stroke="#0a800a" d="M1048.6 117.2V134.2M1045.8 118.2H1048.6M1048.6 133.2H1051.4"/>
<path stroke="#0a800a" d="M1053.7 123.1V140.0M1050.9 135.0H1053.7M1053.7 139.1H1056.5"/>
<path stroke="#0a800a" d="M1058.8 131.2V148.2M1056.0 139.8H1058.8M1058.8 147.2H1061.6"/>
<path stroke="#0a800a" d="M1063.9 141.5V158.4M1061.1 151.9H1063.9M1063.9 142.4H1066.7"/>
<path stroke="#0a800a" d="M1068.9 131.0V147.9M1066.1 135.6H1068.9M1068.9 147.0H1071.7"/>
<path stroke="#3cb371" d="M1074.0 151.5V168.4M1071.2 156.0H1074.0M1074.0 167.5H1076.8"/>
<path stroke="#3cb371" d="M1079.1 157.5V174.4M1076.3 170.0H1079.1M1079.1 158.4H1081.9"/>
<path stroke="#0a800a" d="M1084.2 131.2V148.2M1081.4 141.9H1084.2M1084.2 132.2H1087.0"/>
<path stroke="#0a800a" d="M1089.3 118.5V135.4M1086.5 119.4H1089.3M1089.3 134.5H1092.1"/>
<path stroke="#0a800a" d="M1094.4 135.2V152.2M1091.6 139.0H1094.4M1094.4 151.2H1097.2"/>
<path stroke="#3cb371" d="M1099.5 143.5V160.4M1096.7 156.0H1099.5M1099.5 159.5H1102.3"/>
<path stroke="#3cb371" d="M1104.6 153.1V170.0M1101.8 161.9H1104.6M1104.6 154.0H1107.4"/>
<path stroke="#3cb371" d="M1109.7 149.4V166.3M1106.9 150.3H1109.7M1109.7 165.4H1112.5"/>
<path stroke="#3cb371" d="M1114.8 154.0V170.9M1112.0 170.0H1114.8M1114.8 154.9H1117.6"/>
<path stroke="#3cb371" d="M1119.9 146.5V163.4M1117.1 147.4H1119.9M1119.9 162.5H1122.7"/>
<path stroke="#3cb371" d="M1125.0 152.2V169.2M1122.2 168.2H1125.0M1125.0 153.2H1127.8"/>
<path stroke="#0a800a" d="M1130.1 139.0V155.9M1127.3 152.5H1130.1M1130.1 139.9H1132.9"/>
<path stroke="#0a800a" d="M1135.2 119.4V136.3M1132.4 125.6H1135.2M1135.2 135.4H1138.0"/>
<path stroke="#0a800a" d="M1140.3 123.4V140.3M1137.5 139.4H1140.3M1140.3 124.3H1143.1"/>
<path stroke="#0a800a" d="M1145.4 121.5V138.4M1142.6 122.4H1145.4M1145.4 122.4H1148.2"/>
<path stroke="#0000ff" d="M1150.5 110.6V127.5M1147.7 113.9H1150.5M1150.5 111.5H1153.2"/>
<path stroke="#0000ff" d="M1155.5 93.1V110.0M1152.7 103.5H1155.5M1155.5 94.0H1158.3"/>
<path stroke="#0a800a" d="M1160.6 91.9V108.8M1157.8 92.8H1160.6M1160.6 107.9H1163.4"/>
<path stroke="#3cb371" d="M1165.7 112.5V129.4M1162.9 113.4H1165.7M1165.7 128.5H1168.5"/>
<path stroke="#0a800a" d="M1170.8 113.8V130.7M1168.0 129.8H1170.8M1170.8 114.7H1173.6"/>
<path stroke="#0a800a" d="M1175.9 103.1V120.0M1173.1 112.0H1175.9M1175.9 104.0H1178.7"/>
<path stroke="#0a800a" d="M1181.0 93.1V110.0M1178.2 98.1H1181.0M1181.0 109.1H1183.8"/>
<path stroke="#0a800a" d="M1186.1 95.2V112.2M1183.3 111.2H1186.1M1186.1 96.2H1188.9"/>
<path stroke="#0a800a" d="M1191.2 85.6V102.5M1188.4 86.5H1191.2M1191.2 101.6H1194.0"/>
<path stroke="#0a800a" d="M1196.3 90.6V107.5M1193.5 106.6H1196.3M1196.3 91.5H1199.1"/>
<path stroke="#0a800a" d="M1201.4 77.5V94.4M1198.6 83.5H1201.4M1201.4 93.5H1204.2"/>
<path stroke="#0a800a" d="M1206.5 79.4V96.3M1203.7 95.4H1206.5M1206.5 80.3H1209.3"/>
<path stroke="#0a800a" d="M1211.6 61.0V77.9M1208.8 61.9H1211.6M1211.6 77.0H1214.4"/>
<path stroke="#0a800a" d="M1216.7 63.1V80.0M1213.9 79.1H1216.7M1216.7 64.0H1219.5"/>
<path stroke="#0a800a" d="M1221.8 61.2V78.2M1219.0 62.1H1221.8M1221.8 77.2H1224.6"/>
<path stroke="#0a800a" d="M1226.9 75.0V91.9M1224.1 79.8H1226.9M1226.9 91.0H1229.7"/>
<path stroke="#0a800a" d="M1232.0 83.8V100.7M1229.2 91.9H1232.0M1232.0 84.7H1234.8"/>
<path stroke="#0a800a" d="M1237.0 79.4V96.3M1234.2 83.0H1237.0M1237.0 95.4H1239.8"/>
<path stroke="#0a800a" d="M1242.1 87.2V104.2M1239.3 103.2H1242.1M1242.1 88.2H1244.9"/>
<path stroke="#3cb371" d="M1247.2 83.8V100.7M1244.4 84.7H1247.2M1247.2 99.8H1250.0"/>
<path stroke="#3cb371" d="M1252.3 96.9V113.8M1249.5 107.8H1252.3M1252.3 112.9H1255.1"/>
<path stroke="#3cb371" d="M1257.4 101.2V118.2M1254.6 117.2H1257.4M1257.4 102.2H1260.2"/>
<path stroke="#0a800a" d="M1262.5 98.1V115.0M1259.7 100.6H1262.5M1262.5 99.0H1265.3"/>
<path stroke="#0a800a" d="M1267.6 89.4V106.3M1264.8 90.3H1267.6M1267.6 90.3H1270.4"/>
<path stroke="#0a800a" d="M1272.7 81.2V98.2M1269.9 87.2H1272.7M1272.7 97.2H1275.5"/>
<path stroke="#0a800a" d="M1277.8 95.2V112.2M1275.0 100.0H1277.8M1277.8 96.2H1280.6"/>
<path stroke="#0a800a" d="M1282.9 82.8V99.7M1280.1 94.0H1282.9M1282.9 83.7H1285.7"/>
<path stroke="#0a800a" d="M1288.0 68.8V85.7M1285.2 73.1H1288.0M1288.0 84.8H1290.8"/>
<path stroke="#0a800a" d="M1293.1 79.4V96.3M1290.3 84.4H1293.1M1293.1 95.4H1295.9"/>
<path stroke="#3cb371" d="M1298.2 91.2V108.2M1295.4 96.2H1298.2M1298.2 107.2H1301.0"/>
<path stroke="#3cb371" d="M1303.3 101.0V117.9M1300.5 109.4H1303.3M1303.3 117.0H1306.1"/>
<path stroke="#3cb371" d="M1308.4 115.2V132.1M1305.6 119.0H1308.4M1308.4 131.2H1311.2"/>
<path stroke="#3cb371" d="M1313.5 131.2V148.2M1310.7 137.5H1313.5M1313.5 132.2H1316.3"/>
<path stroke="#32cd32" d="M1318.6 123.3V140.2M1315.8 124.2H1318.6M1318.6 139.3H1321.4"/>
<path stroke="#32cd32" d="M1323.6 125.3V142.2M1320.8 141.3H1323.6M1323.6 126.2H1326.4"/>
<path stroke="#32cd32" d="M1328.7 110.7V127.6M1325.9 123.5H1328.7M1328.7 126.7H1331.5"/>
<path stroke="#3cb371" d="M1333.8 113.6V130.5M1331.0 129.6H1333.8M1333.8 114.5H1336.6"/>
<path stroke="#3cb371" d="M1338.9 104.3V121.2M1336.1 109.4H1338.9M1338.9 120.3H1341.7"/>
<path stroke="#3cb371" d="M1344.0 117.1V134.0M1341.2 126.0H1344.0M1344.0 118.0H1346.8"/>
<path stroke="#3cb371" d="M1349.1 105.6V122.5M1346.3 115.8H1349.1M1349.1 106.5H1351.9"/>
<path stroke="#3cb371" d="M1354.2 101.4V118.3M1351.4 102.3H1354.2M1354.2 117.4H1357.0"/>
<path stroke="#3cb371" d="M1359.3 103.0V119.9M1356.5 107.6H1359.3M1359.3 119.0H1362.1"/>
<path stroke="#32cd32" d="M1364.4 115.1V132.0M1361.6 120.0H1364.4M1364.4 131.1H1367.2"/>
<path stroke="#32cd32" d="M1369.5 125.5V142.4M1366.7 132.5H1369.5M1369.5 141.5H1372.3"/>
<path stroke="#32cd32" d="M1374.6 133.0V149.9M1371.8 149.0H1374.6M1374.6 133.9H1377.4"/>
<path stroke="#32cd32" d="M1379.7 125.7V142.6M1376.9 129.8H1379.7M1379.7 141.7H1382.5"/>
<path stroke="#adff2f" d="M1384.8 146.9V163.8M1382.0 147.8H1384.8M1384.8 162.9H1387.6"/>
<path stroke="#32cd32" d="M1389.9 150.0V166.9M1387.1 166.0H1389.9M1389.9 150.9H1392.7"/>
<path stroke="#32cd32" d="M1395.0 133.0V149.9M1392.2 149.0H1395.0M1395.0 133.9H1397.8"/>
<path stroke="#32cd32" d="M1400.1 121.2V138.1M1397.3 130.0H1400.1M1400.1 122.1H1402.9"/>
<path stroke="#3cb371" d="M1405.2 111.9V128.8M1402.4 120.4H1405.2M1405.2 112.8H1408.0"/>
<path stroke="#3cb371" d="M1410.2 107.6V124.5M1407.4 111.6H1410.2M1410.2 108.5H1413.0"/>
<path stroke="#b4dcc4" d="M1415.9 97.5V106.7M1415.9 103.7H1418.5"/>
</g>
</g>
<g id="osc">
<rect x="3.3" y="598.4" width="1407.5" height="18.1" fill="#e4fbe3"/>
<rect x="3.3" y="725.5" width="1407.5" height="18.1" fill="#feeee3"/>
<path d="M3.3 598.4H1410.8" stroke="#a0a8a0" stroke-width="0.8" fill="none"/>
<path d="M3.3 616.5H1410.8" stroke="#9ea59e" stroke-width="1.8" fill="none"/>
<path d="M3.3 634.7H1410.8" stroke="#868686" stroke-width="0.8" fill="none"/>
<path d="M3.3 652.9H1410.8" stroke="#868686" stroke-width="0.8" fill="none"/>
<path d="M3.3 671.0H1410.8" stroke="#999" stroke-width="2.6" fill="none"/>
<path d="M3.3 689.1H1410.8" stroke="#868686" stroke-width="0.8" fill="none"/>
<path d="M3.3 707.3H1410.8" stroke="#868686" stroke-width="0.8" fill="none"/>
<path d="M3.3 725.5H1410.8" stroke="#a5a09c" stroke-width="1.8" fill="none"/>
<path d="M3.3 743.6H1410.8" stroke="#a8a0a0" stroke-width="0.8" fill="none"/>
<rect x="3.30" y="652.5" width="3.15" height="18.5" fill="#32cd32" fill-opacity="0.42"/>
<rect x="7.24" y="659.9" width="4.30" height="11.1" fill="#adff2f" fill-opacity="0.42"/>
<rect x="12.34" y="658.0" width="4.30" height="13.0" fill="#adff2f" fill-opacity="0.42"/>
<rect x="17.43" y="663.6" width="4.30" height="7.4" fill="#adff2f" fill-opacity="0.42"/>
<rect x="22.53" y="671.0" width="4.30" height="0.8" fill="#cd5c5c" fill-opacity="0.42"/>
<rect x="27.62" y="671.0" width="4.30" height="7.1" fill="#cd5c5c" fill-opacity="0.42"/>
<rect x="32.71" y="671.0" width="4.30" height="19.6" fill="#fa8072" fill-opacity="0.42"/>
<rect x="37.81" y="671.0" width="4.30" height="21.5" fill="#fa8072" fill-opacity="0.42"/>
<rect x="42.90" y="671.0" width="4.30" height="24.6" fill="#fa8072" fill-opacity="0.42"/>
<rect x="48.00" y="671.0" width="4.30" height="33.5" fill="#fa8072" fill-opacity="0.42"/>
<rect x="53.09" y="671.0" width="4.30" height="28.1" fill="#fa8072" fill-opacity="0.42"/>
<rect x="58.18" y="671.0" width="4.30" height="6.3" fill="#cd5c5c" fill-opacity="0.42"/>
<rect x="63.28" y="664.2" width="4.30" height="6.8" fill="#adff2f" fill-opacity="0.42"/>
<rect x="68.37" y="662.0" width="4.30" height="9.0" fill="#adff2f" fill-opacity="0.42"/>
<rect x="73.47" y="671.0" width="4.30" height="0.8" fill="#cd5c5c" fill-opacity="0.42"/>
<rect x="78.56" y="671.0" width="4.30" height="11.2" fill="#cd5c5c" fill-opacity="0.42"/>
<rect x="83.65" y="671.0" width="4.30" height="17.7" fill="#cd5c5c" fill-opacity="0.42"/>
<rect x="88.75" y="671.0" width="4.30" height="14.2" fill="#cd5c5c" fill-opacity="0.42"/>
<rect x="93.84" y="671.0" width="4.30" height="24.6" fill="#fa8072" fill-opacity="0.42"/>
<rect x="98.94" y="671.0" width="4.30" height="23.8" fill="#fa8072" fill-opacity="0.42"/>
<rect x="104.03" y="671.0" width="4.30" height="16.6" fill="#cd5c5c" fill-opacity="0.42"/>
<rect x="109.12" y="671.0" width="4.30" height="16.3" fill="#cd5c5c" fill-opacity="0.42"/>
<rect x="114.22" y="671.0" width="4.30" height="33.5" fill="#fa8072" fill-opacity="0.42"/>
<rect x="119.31" y="671.0" width="4.30" height="44.0" fill="#ffa07a" fill-opacity="0.42"/>
<rect x="124.41" y="671.0" width="4.30" height="51.4" fill="#ffa07a" fill-opacity="0.42"/>
<rect x="129.50" y="671.0" width="4.30" height="44.8" fill="#ffa07a" fill-opacity="0.42"/>
<rect x="134.59" y="671.0" width="4.30" height="29.7" fill="#fa8072" fill-opacity="0.42"/>
<rect x="139.69" y="671.0" width="4.30" height="38.3" fill="#ffa07a" fill-opacity="0.42"/>
<rect x="144.78" y="671.0" width="4.30" height="43.5" fill="#ffa07a" fill-opacity="0.42"/>
<rect x="149.88" y="671.0" width="4.30" height="29.1" fill="#fa8072" fill-opacity="0.42"/>
<rect x="154.97" y="671.0" width="4.30" height="19.4" fill="#fa8072" fill-opacity="0.42"/>
<rect x="160.06" y="671.0" width="4.30" height="26.7" fill="#fa8072" fill-opacity="0.42"/>
<rect x="165.16" y="671.0" width="4.30" height="25.9" fill="#fa8072" fill-opacity="0.42"/>
<rect x="170.25" y="671.0" width="4.30" height="31.9" fill="#fa8072" fill-opacity="0.42"/>
<rect x="175.35" y="671.0" width="4.30" height="33.1" fill="#fa8072" fill-opacity="0.42"/>
<rect x="180.44" y="671.0" width="4.30" height="23.9" fill="#fa8072" fill-opacity="0.42"/>
<rect x="185.53" y="671.0" width="4.30" height="38.3" fill="#ffa07a" fill-opacity="0.42"/>
<rect x="190.63" y="671.0" width="4.30" height="36.2" fill="#fa8072" fill-opacity="0.42"/>
<rect x="195.72" y="671.0" width="4.30" height="36.8" fill="#ffa07a" fill-opacity="0.42"/>
<rect x="200.82" y="671.0" width="4.30" height="43.5" fill="#ffa07a" fill-opacity="0.42"/>
<rect x="205.91" y="671.0" width="4.30" height="26.0" fill="#fa8072" fill-opacity="0.42"/>
<rect x="211.00" y="671.0" width="4.30" height="24.4" fill="#fa8072" fill-opacity="0.42"/>
<rect x="216.10" y="671.0" width="4.30" height="27.4" fill="#fa8072" fill-opacity="0.42"/>
<rect x="221.19" y="671.0" width="4.30" height="33.7" fill="#fa8072" fill-opacity="0.42"/>
<rect x="226.29" y="671.0" width="4.30" height="29.0" fill="#fa8072" fill-opacity="0.42"/>
<rect x="231.38" y="671.0" width="4.30" height="16.3" fill="#cd5c5c" fill-opacity="0.42"/>
<rect x="236.47" y="671.0" width="4.30" height="5.8" fill="#cd5c5c" fill-opacity="0.42"/>
<rect x="241.57" y="668.8" width="4.30" height="2.2" fill="#adff2f" fill-opacity="0.42"/>
<rect x="246.66" y="671.0" width="4.30" height="8.4" fill="#cd5c5c" fill-opacity="0.42"/>
<rect x="251.76" y="671.0" width="4.30" height="22.6" fill="#fa8072" fill-opacity="0.42"/>
<rect x="256.85" y="671.0" width="4.30" height="21.6" fill="#fa8072" fill-opacity="0.42"/>
<rect x="261.94" y="671.0" width="4.30" height="19.9" fill="#fa8072" fill-opacity="0.42"/>
<rect x="267.04" y="671.0" width="4.30" height="54.3" fill="#ffa07a" fill-opacity="0.42"/>
<rect x="272.13" y="671.0" width="4.30" height="47.2" fill="#ffa07a" fill-opacity="0.42"/>
<rect x="277.23" y="671.0" width="4.30" height="24.6" fill="#fa8072" fill-opacity="0.42"/>
<rect x="282.32" y="671.0" width="4.30" height="10.0" fill="#cd5c5c" fill-opacity="0.42"/>
<rect x="287.41" y="671.0" width="4.30" height="7.4" fill="#cd5c5c" fill-opacity="0.42"/>
<rect x="292.51" y="671.0" width="4.30" height="24.4" fill="#fa8072" fill-opacity="0.42"/>
<rect x="297.60" y="671.0" width="4.30" height="26.9" fill="#fa8072" fill-opacity="0.42"/>
<rect x="302.70" y="671.0" width="4.30" height="3.6" fill="#cd5c5c" fill-opacity="0.42"/>
<rect x="307.79" y="671.0" width="4.30" height="17.9" fill="#cd5c5c" fill-opacity="0.42"/>
<rect x="312.88" y="671.0" width="4.30" height="23.2" fill="#fa8072" fill-opacity="0.42"/>
<rect x="317.98" y="671.0" width="4.30" height="4.0" fill="#cd5c5c" fill-opacity="0.42"/>
<rect x="323.07" y="669.8" width="4.30" height="1.2" fill="#adff2f" fill-opacity="0.42"/>
<rect x="328.17" y="671.0" width="4.30" height="17.9" fill="#cd5c5c" fill-opacity="0.42"/>
<rect x="333.26" y="671.0" width="4.30" height="11.7" fill="#cd5c5c" fill-opacity="0.42"/>
<rect x="338.35" y="662.1" width="4.30" height="8.9" fill="#adff2f" fill-opacity="0.42"/>
<rect x="343.45" y="640.5" width="4.30" height="30.5" fill="#32cd32" fill-opacity="0.42"/>
<rect x="348.54" y="640.1" width="4.30" height="30.9" fill="#32cd32" fill-opacity="0.42"/>
<rect x="353.64" y="659.4" width="4.30" height="11.6" fill="#adff2f" fill-opacity="0.42"/>
<rect x="358.73" y="610.0" width="4.30" height="61.0" fill="#0a800a" fill-opacity="0.42"/>
<rect x="363.82" y="613.1" width="4.30" height="57.9" fill="#0a800a" fill-opacity="0.42"/>
<rect x="368.92" y="603.0" width="4.30" height="68.0" fill="#0a800a" fill-opacity="0.42"/>
<rect x="374.01" y="611.7" width="4.30" height="59.3" fill="#0a800a" fill-opacity="0.42"/>
<rect x="379.11" y="604.7" width="4.30" height="66.3" fill="#0a800a" fill-opacity="0.42"/>
<rect x="384.20" y="598.4" width="4.3" height="72.6" fill="#0000ff" fill-opacity="0.42"/>
<rect x="389.29" y="607.1" width="4.30" height="63.9" fill="#0a800a" fill-opacity="0.42"/>
<rect x="394.39" y="614.7" width="4.30" height="56.3" fill="#0a800a" fill-opacity="0.42"/>
<rect x="399.48" y="619.2" width="4.30" height="51.8" fill="#3cb371" fill-opacity="0.42"/>
<rect x="404.58" y="620.9" width="4.30" height="50.1" fill="#3cb371" fill-opacity="0.42"/>
<rect x="409.67" y="620.5" width="4.30" height="50.5" fill="#3cb371" fill-opacity="0.42"/>
<rect x="414.76" y="628.4" width="4.30" height="42.6" fill="#3cb371" fill-opacity="0.42"/>
<rect x="419.86" y="633.4" width="4.30" height="37.6" fill="#3cb371" fill-opacity="0.42"/>
<rect x="424.95" y="628.9" width="4.30" height="42.1" fill="#3cb371" fill-opacity="0.42"/>
<rect x="430.05" y="606.7" width="4.30" height="64.3" fill="#0a800a" fill-opacity="0.42"/>
<rect x="435.14" y="606.0" width="4.30" height="65.0" fill="#0a800a" fill-opacity="0.42"/>
<rect x="440.23" y="601.3" width="4.30" height="69.7" fill="#0a800a" fill-opacity="0.42"/>
<rect x="445.33" y="605.2" width="4.30" height="65.8" fill="#0a800a" fill-opacity="0.42"/>
<rect x="450.42" y="616.2" width="4.30" height="54.8" fill="#0a800a" fill-opacity="0.42"/>
<rect x="455.52" y="627.0" width="4.30" height="44.0" fill="#3cb371" fill-opacity="0.42"/>
<rect x="460.61" y="628.6" width="4.30" height="42.4" fill="#3cb371" fill-opacity="0.42"/>
<rect x="465.70" y="616.9" width="4.30" height="54.1" fill="#0a800a" fill-opacity="0.42"/>
<rect x="470.80" y="617.3" width="4.30" height="53.7" fill="#3cb371" fill-opacity="0.42"/>
<rect x="475.89" y="613.1" width="4.30" height="57.9" fill="#0a800a" fill-opacity="0.42"/>
<rect x="480.99" y="611.5" width="4.30" height="59.5" fill="#0a800a" fill-opacity="0.42"/>
<rect x="486.08" y="613.7" width="4.30" height="57.3" fill="#0a800a" fill-opacity="0.42"/>
<rect x="491.17" y="605.3" width="4.30" height="65.7" fill="#0a800a" fill-opacity="0.42"/>
<rect x="496.27" y="608.9" width="4.30" height="62.1" fill="#0a800a" fill-opacity="0.42"/>
<rect x="501.36" y="619.0" width="4.30" height="52.0" fill="#3cb371" fill-opacity="0.42"/>
<rect x="506.46" y="618.0" width="4.30" height="53.0" fill="#3cb371" fill-opacity="0.42"/>
<rect x="511.55" y="623.2" width="4.30" height="47.8" fill="#3cb371" fill-opacity="0.42"/>
<rect x="516.64" y="618.3" width="4.30" height="52.7" fill="#3cb371" fill-opacity="0.42"/>
<rect x="521.74" y="611.1" width="4.30" height="59.9" fill="#0a800a" fill-opacity="0.42"/>
<rect x="526.83" y="614.1" width="4.30" height="56.9" fill="#0a800a" fill-opacity="0.42"/>
<rect x="531.93" y="627.9" width="4.30" height="43.1" fill="#3cb371" fill-opacity="0.42"/>
<rect x="537.02" y="643.8" width="4.30" height="27.2" fill="#32cd32" fill-opacity="0.42"/>
<rect x="542.11" y="663.5" width="4.30" height="7.5" fill="#adff2f" fill-opacity="0.42"/>
<rect x="547.21" y="659.5" width="4.30" height="11.5" fill="#adff2f" fill-opacity="0.42"/>
<rect x="552.30" y="660.3" width="4.30" height="10.7" fill="#adff2f" fill-opacity="0.42"/>
<rect x="557.40" y="667.5" width="4.30" height="3.5" fill="#adff2f" fill-opacity="0.42"/>
<rect x="562.49" y="669.8" width="4.30" height="1.2" fill="#adff2f" fill-opacity="0.42"/>
<rect x="567.58" y="671.0" width="4.30" height="6.3" fill="#cd5c5c" fill-opacity="0.42"/>
<rect x="572.68" y="671.0" width="4.30" height="8.5" fill="#cd5c5c" fill-opacity="0.42"/>
<rect x="577.77" y="671.0" width="4.30" height="8.2" fill="#cd5c5c" fill-opacity="0.42"/>
<rect x="582.87" y="671.0" width="4.30" height="3.0" fill="#cd5c5c" fill-opacity="0.42"/>
<rect x="587.96" y="663.9" width="4.30" height="7.1" fill="#adff2f" fill-opacity="0.42"/>
<rect x="593.05" y="671.0" width="4.30" height="20.9" fill="#fa8072" fill-opacity="0.42"/>
<rect x="598.15" y="671.0" width="4.30" height="3.0" fill="#cd5c5c" fill-opacity="0.42"/>
<rect x="603.24" y="655.6" width="4.30" height="15.4" fill="#adff2f" fill-opacity="0.42"/>
<rect x="608.34" y="666.4" width="4.30" height="4.6" fill="#adff2f" fill-opacity="0.42"/>
<rect x="613.43" y="671.0" width="4.30" height="9.2" fill="#cd5c5c" fill-opacity="0.42"/>
<rect x="618.52" y="671.0" width="4.30" height="10.0" fill="#cd5c5c" fill-opacity="0.42"/>
<rect x="623.62" y="668.5" width="4.30" height="2.5" fill="#adff2f" fill-opacity="0.42"/>
<rect x="628.71" y="668.2" width="4.30" height="2.8" fill="#adff2f" fill-opacity="0.42"/>
<rect x="633.81" y="644.1" width="4.30" height="26.9" fill="#32cd32" fill-opacity="0.42"/>
<rect x="638.90" y="641.3" width="4.30" height="29.7" fill="#32cd32" fill-opacity="0.42"/>
<rect x="643.99" y="637.0" width="4.30" height="34.0" fill="#32cd32" fill-opacity="0.42"/>
<rect x="649.09" y="628.2" width="4.30" height="42.8" fill="#3cb371" fill-opacity="0.42"/>
<rect x="654.18" y="629.0" width="4.30" height="42.0" fill="#3cb371" fill-opacity="0.42"/>
<rect x="659.28" y="634.0" width="4.30" height="37.0" fill="#3cb371" fill-opacity="0.42"/>
<rect x="664.37" y="638.7" width="4.30" height="32.3" fill="#32cd32" fill-opacity="0.42"/>
<rect x="669.46" y="640.2" width="4.30" height="30.8" fill="#32cd32" fill-opacity="0.42"/>
<rect x="674.56" y="636.2" width="4.30" height="34.8" fill="#32cd32" fill-opacity="0.42"/>
<rect x="679.65" y="634.3" width="4.30" height="36.7" fill="#3cb371" fill-opacity="0.42"/>
<rect x="684.75" y="638.1" width="4.30" height="32.9" fill="#32cd32" fill-opacity="0.42"/>
<rect x="689.84" y="635.8" width="4.30" height="35.2" fill="#32cd32" fill-opacity="0.42"/>
<rect x="694.93" y="626.5" width="4.30" height="44.5" fill="#3cb371" fill-opacity="0.42"/>
<rect x="700.03" y="632.9" width="4.30" height="38.1" fill="#3cb371" fill-opacity="0.42"/>
<rect x="705.12" y="631.9" width="4.30" height="39.1" fill="#3cb371" fill-opacity="0.42"/>
<rect x="710.22" y="631.2" width="4.30" height="39.8" fill="#3cb371" fill-opacity="0.42"/>
<rect x="715.31" y="640.2" width="4.30" height="30.8" fill="#32cd32" fill-opacity="0.42"/>
<rect x="720.40" y="642.3" width="4.30" height="28.7" fill="#32cd32" fill-opacity="0.42"/>
<rect x="725.50" y="644.5" width="4.30" height="26.5" fill="#32cd32" fill-opacity="0.42"/>
<rect x="730.59" y="640.8" width="4.30" height="30.2" fill="#32cd32" fill-opacity="0.42"/>
<rect x="735.69" y="640.5" width="4.30" height="30.5" fill="#32cd32" fill-opacity="0.42"/>
<rect x="740.78" y="638.3" width="4.30" height="32.7" fill="#32cd32" fill-opacity="0.42"/>
<rect x="745.87" y="636.6" width="4.30" height="34.4" fill="#32cd32" fill-opacity="0.42"/>
<rect x="750.97" y="629.5" width="4.30" height="41.5" fill="#3cb371" fill-opacity="0.42"/>
<rect x="756.06" y="639.5" width="4.30" height="31.5" fill="#32cd32" fill-opacity="0.42"/>
<rect x="761.16" y="645.2" width="4.30" height="25.8" fill="#32cd32" fill-opacity="0.42"/>
<rect x="766.25" y="639.7" width="4.30" height="31.3" fill="#32cd32" fill-opacity="0.42"/>
<rect x="771.34" y="645.3" width="4.30" height="25.7" fill="#32cd32" fill-opacity="0.42"/>
<rect x="776.44" y="642.5" width="4.30" height="28.5" fill="#32cd32" fill-opacity="0.42"/>
<rect x="781.53" y="631.0" width="4.30" height="40.0" fill="#3cb371" fill-opacity="0.42"/>
<rect x="786.63" y="635.7" width="4.30" height="35.3" fill="#32cd32" fill-opacity="0.42"/>
<rect x="791.72" y="636.8" width="4.30" height="34.2" fill="#32cd32" fill-opacity="0.42"/>
<rect x="796.81" y="636.6" width="4.30" height="34.4" fill="#32cd32" fill-opacity="0.42"/>
<rect x="801.91" y="629.8" width="4.30" height="41.2" fill="#3cb371" fill-opacity="0.42"/>
<rect x="807.00" y="634.5" width="4.30" height="36.5" fill="#3cb371" fill-opacity="0.42"/>
<rect x="812.10" y="671.0" width="4.30" height="6.5" fill="#cd5c5c" fill-opacity="0.42"/>
<rect x="817.19" y="618.2" width="4.30" height="52.8" fill="#3cb371" fill-opacity="0.42"/>
<rect x="822.28" y="612.4" width="4.30" height="58.6" fill="#0a800a" fill-opacity="0.42"/>
<rect x="827.38" y="612.4" width="4.30" height="58.6" fill="#0a800a" fill-opacity="0.42"/>
<rect x="832.47" y="609.4" width="4.30" height="61.6" fill="#0a800a" fill-opacity="0.42"/>
<rect x="837.57" y="602.1" width="4.30" height="68.9" fill="#0a800a" fill-opacity="0.42"/>
<rect x="842.66" y="607.8" width="4.30" height="63.2" fill="#0a800a" fill-opacity="0.42"/>
<rect x="847.75" y="610.0" width="4.30" height="61.0" fill="#0a800a" fill-opacity="0.42"/>
<rect x="852.85" y="617.1" width="4.30" height="53.9" fill="#3cb371" fill-opacity="0.42"/>
<rect x="857.94" y="613.0" width="4.30" height="58.0" fill="#0a800a" fill-opacity="0.42"/>
<rect x="863.04" y="621.4" width="4.30" height="49.6" fill="#3cb371" fill-opacity="0.42"/>
<rect x="868.13" y="629.6" width="4.30" height="41.4" fill="#3cb371" fill-opacity="0.42"/>
<rect x="873.22" y="638.0" width="4.30" height="33.0" fill="#32cd32" fill-opacity="0.42"/>
<rect x="878.32" y="630.0" width="4.30" height="41.0" fill="#3cb371" fill-opacity="0.42"/>
<rect x="883.41" y="634.3" width="4.30" height="36.7" fill="#3cb371" fill-opacity="0.42"/>
<rect x="888.51" y="648.6" width="4.30" height="22.4" fill="#32cd32" fill-opacity="0.42"/>
<rect x="893.60" y="668.3" width="4.30" height="2.7" fill="#adff2f" fill-opacity="0.42"/>
<rect x="898.69" y="665.0" width="4.30" height="6.0" fill="#adff2f" fill-opacity="0.42"/>
<rect x="903.79" y="663.0" width="4.30" height="8.0" fill="#adff2f" fill-opacity="0.42"/>
<rect x="908.88" y="661.2" width="4.30" height="9.8" fill="#adff2f" fill-opacity="0.42"/>
<rect x="913.98" y="654.4" width="4.30" height="16.6" fill="#adff2f" fill-opacity="0.42"/>
<rect x="919.07" y="642.2" width="4.30" height="28.8" fill="#32cd32" fill-opacity="0.42"/>
<rect x="924.16" y="646.2" width="4.30" height="24.8" fill="#32cd32" fill-opacity="0.42"/>
<rect x="929.26" y="654.5" width="4.30" height="16.5" fill="#adff2f" fill-opacity="0.42"/>
<rect x="934.35" y="646.0" width="4.30" height="25.0" fill="#32cd32" fill-opacity="0.42"/>
<rect x="939.45" y="646.2" width="4.30" height="24.8" fill="#32cd32" fill-opacity="0.42"/>
<rect x="944.54" y="659.2" width="4.30" height="11.8" fill="#adff2f" fill-opacity="0.42"/>
<rect x="949.63" y="650.8" width="4.30" height="20.2" fill="#32cd32" fill-opacity="0.42"/>
<rect x="954.73" y="641.2" width="4.30" height="29.8" fill="#32cd32" fill-opacity="0.42"/>
<rect x="959.82" y="627.8" width="4.30" height="43.2" fill="#3cb371" fill-opacity="0.42"/>
<rect x="964.92" y="618.7" width="4.30" height="52.3" fill="#3cb371" fill-opacity="0.42"/>
<rect x="970.01" y="609.0" width="4.30" height="62.0" fill="#0a800a" fill-opacity="0.42"/>
<rect x="975.10" y="615.7" width="4.30" height="55.3" fill="#0a800a" fill-opacity="0.42"/>
<rect x="980.20" y="606.9" width="4.30" height="64.1" fill="#0a800a" fill-opacity="0.42"/>
<rect x="985.29" y="608.6" width="4.30" height="62.4" fill="#0a800a" fill-opacity="0.42"/>
<rect x="990.39" y="604.4" width="4.30" height="66.6" fill="#0a800a" fill-opacity="0.42"/>
<rect x="995.48" y="607.9" width="4.30" height="63.1" fill="#0a800a" fill-opacity="0.42"/>
<rect x="1000.57" y="605.9" width="4.30" height="65.1" fill="#0a800a" fill-opacity="0.42"/>
<rect x="1005.67" y="607.2" width="4.30" height="63.8" fill="#0a800a" fill-opacity="0.42"/>
<rect x="1010.76" y="601.4" width="4.30" height="69.6" fill="#0a800a" fill-opacity="0.42"/>
<rect x="1015.86" y="598.4" width="4.3" height="72.6" fill="#0000ff" fill-opacity="0.42"/>
<rect x="1020.95" y="607.1" width="4.30" height="63.9" fill="#0a800a" fill-opacity="0.42"/>
<rect x="1026.04" y="609.2" width="4.30" height="61.8" fill="#0a800a" fill-opacity="0.42"/>
<rect x="1031.14" y="603.4" width="4.30" height="67.6" fill="#0a800a" fill-opacity="0.42"/>
<rect x="1036.23" y="600.2" width="4.30" height="70.8" fill="#0a800a" fill-opacity="0.42"/>
<rect x="1041.33" y="598.4" width="4.3" height="72.6" fill="#0000ff" fill-opacity="0.42"/>
<rect x="1046.42" y="606.6" width="4.30" height="64.4" fill="#0a800a" fill-opacity="0.42"/>
<rect x="1051.51" y="609.4" width="4.30" height="61.6" fill="#0a800a" fill-opacity="0.42"/>
<rect x="1056.61" y="613.4" width="4.30" height="57.6" fill="#0a800a" fill-opacity="0.42"/>
<rect x="1061.70" y="611.0" width="4.30" height="60.0" fill="#0a800a" fill-opacity="0.42"/>
<rect x="1066.80" y="613.3" width="4.30" height="57.7" fill="#0a800a" fill-opacity="0.42"/>
<rect x="1071.89" y="623.2" width="4.30" height="47.8" fill="#3cb371" fill-opacity="0.42"/>
<rect x="1076.98" y="618.8" width="4.30" height="52.2" fill="#3cb371" fill-opacity="0.42"/>
<rect x="1082.08" y="606.0" width="4.30" height="65.0" fill="#0a800a" fill-opacity="0.42"/>
<rect x="1087.17" y="607.2" width="4.30" height="63.8" fill="#0a800a" fill-opacity="0.42"/>
<rect x="1092.27" y="615.3" width="4.30" height="55.7" fill="#0a800a" fill-opacity="0.42"/>
<rect x="1097.36" y="619.5" width="4.30" height="51.5" fill="#3cb371" fill-opacity="0.42"/>
<rect x="1102.45" y="618.4" width="4.30" height="52.6" fill="#3cb371" fill-opacity="0.42"/>
<rect x="1107.55" y="624.5" width="4.30" height="46.5" fill="#3cb371" fill-opacity="0.42"/>
<rect x="1112.64" y="618.9" width="4.30" height="52.1" fill="#3cb371" fill-opacity="0.42"/>
<rect x="1117.74" y="623.0" width="4.30" height="48.0" fill="#3cb371" fill-opacity="0.42"/>
<rect x="1122.83" y="618.2" width="4.30" height="52.8" fill="#3cb371" fill-opacity="0.42"/>
<rect x="1127.92" y="611.9" width="4.30" height="59.1" fill="#0a800a" fill-opacity="0.42"/>
<rect x="1133.02" y="609.3" width="4.30" height="61.7" fill="#0a800a" fill-opacity="0.42"/>
<rect x="1138.11" y="602.9" width="4.30" height="68.1" fill="#0a800a" fill-opacity="0.42"/>
<rect x="1143.21" y="601.8" width="4.30" height="69.2" fill="#0a800a" fill-opacity="0.42"/>
<rect x="1148.30" y="598.4" width="4.3" height="72.6" fill="#0000ff" fill-opacity="0.42"/>
<rect x="1153.39" y="598.4" width="4.3" height="72.6" fill="#0000ff" fill-opacity="0.42"/>
<rect x="1158.49" y="607.3" width="4.30" height="63.7" fill="#0a800a" fill-opacity="0.42"/>
<rect x="1163.58" y="618.1" width="4.30" height="52.9" fill="#3cb371" fill-opacity="0.42"/>
<rect x="1168.68" y="610.9" width="4.30" height="60.1" fill="#0a800a" fill-opacity="0.42"/>
<rect x="1173.77" y="605.3" width="4.30" height="65.7" fill="#0a800a" fill-opacity="0.42"/>
<rect x="1178.86" y="608.0" width="4.30" height="63.0" fill="#0a800a" fill-opacity="0.42"/>
<rect x="1183.96" y="601.9" width="4.30" height="69.1" fill="#0a800a" fill-opacity="0.42"/>
<rect x="1189.05" y="607.1" width="4.30" height="63.9" fill="#0a800a" fill-opacity="0.42"/>
<rect x="1194.15" y="602.3" width="4.30" height="68.7" fill="#0a800a" fill-opacity="0.42"/>
<rect x="1199.24" y="606.6" width="4.30" height="64.4" fill="#0a800a" fill-opacity="0.42"/>
<rect x="1204.33" y="600.0" width="4.30" height="71.0" fill="#0a800a" fill-opacity="0.42"/>
<rect x="1209.43" y="606.3" width="4.30" height="64.7" fill="#0a800a" fill-opacity="0.42"/>
<rect x="1214.52" y="600.1" width="4.30" height="70.9" fill="#0a800a" fill-opacity="0.42"/>
<rect x="1219.62" y="606.4" width="4.30" height="64.6" fill="#0a800a" fill-opacity="0.42"/>
<rect x="1224.71" y="612.9" width="4.30" height="58.1" fill="#0a800a" fill-opacity="0.42"/>
<rect x="1229.80" y="609.9" width="4.30" height="61.1" fill="#0a800a" fill-opacity="0.42"/>
<rect x="1234.90" y="614.9" width="4.30" height="56.1" fill="#0a800a" fill-opacity="0.42"/>
<rect x="1239.99" y="611.5" width="4.30" height="59.5" fill="#0a800a" fill-opacity="0.42"/>
<rect x="1245.09" y="617.0" width="4.30" height="54.0" fill="#3cb371" fill-opacity="0.42"/>
<rect x="1250.18" y="623.2" width="4.30" height="47.8" fill="#3cb371" fill-opacity="0.42"/>
<rect x="1255.27" y="618.1" width="4.30" height="52.9" fill="#3cb371" fill-opacity="0.42"/>
<rect x="1260.37" y="616.6" width="4.30" height="54.4" fill="#0a800a" fill-opacity="0.42"/>
<rect x="1265.46" y="612.5" width="4.30" height="58.5" fill="#0a800a" fill-opacity="0.42"/>
<rect x="1270.56" y="615.8" width="4.30" height="55.2" fill="#0a800a" fill-opacity="0.42"/>
<rect x="1275.65" y="615.3" width="4.30" height="55.7" fill="#0a800a" fill-opacity="0.42"/>
<rect x="1280.74" y="609.4" width="4.30" height="61.6" fill="#0a800a" fill-opacity="0.42"/>
<rect x="1285.84" y="609.9" width="4.30" height="61.1" fill="#0a800a" fill-opacity="0.42"/>
<rect x="1290.93" y="614.9" width="4.30" height="56.1" fill="#0a800a" fill-opacity="0.42"/>
<rect x="1296.03" y="620.5" width="4.30" height="50.5" fill="#3cb371" fill-opacity="0.42"/>
<rect x="1301.12" y="625.1" width="4.30" height="45.9" fill="#3cb371" fill-opacity="0.42"/>
<rect x="1306.21" y="631.8" width="4.30" height="39.2" fill="#3cb371" fill-opacity="0.42"/>
<rect x="1311.31" y="632.3" width="4.30" height="38.7" fill="#3cb371" fill-opacity="0.42"/>
<rect x="1316.40" y="636.1" width="4.30" height="34.9" fill="#32cd32" fill-opacity="0.42"/>
<rect x="1321.50" y="638.4" width="4.30" height="32.6" fill="#32cd32" fill-opacity="0.42"/>
<rect x="1326.59" y="638.7" width="4.30" height="32.3" fill="#32cd32" fill-opacity="0.42"/>
<rect x="1331.68" y="631.3" width="4.30" height="39.7" fill="#3cb371" fill-opacity="0.42"/>
<rect x="1336.78" y="634.3" width="4.30" height="36.7" fill="#3cb371" fill-opacity="0.42"/>
<rect x="1341.87" y="633.4" width="4.30" height="37.6" fill="#3cb371" fill-opacity="0.42"/>
<rect x="1346.97" y="626.4" width="4.30" height="44.6" fill="#3cb371" fill-opacity="0.42"/>
<rect x="1352.06" y="633.0" width="4.30" height="38.0" fill="#3cb371" fill-opacity="0.42"/>
<rect x="1357.15" y="634.0" width="4.30" height="37.0" fill="#3cb371" fill-opacity="0.42"/>
<rect x="1362.25" y="641.3" width="4.30" height="29.7" fill="#32cd32" fill-opacity="0.42"/>
<rect x="1367.34" y="647.6" width="4.30" height="23.4" fill="#32cd32" fill-opacity="0.42"/>
<rect x="1372.44" y="643.0" width="4.30" height="28.0" fill="#32cd32" fill-opacity="0.42"/>
<rect x="1377.53" y="647.8" width="4.30" height="23.2" fill="#32cd32" fill-opacity="0.42"/>
<rect x="1382.62" y="660.6" width="4.30" height="10.4" fill="#adff2f" fill-opacity="0.42"/>
<rect x="1387.72" y="653.4" width="4.30" height="17.6" fill="#32cd32" fill-opacity="0.42"/>
<rect x="1392.81" y="643.0" width="4.30" height="28.0" fill="#32cd32" fill-opacity="0.42"/>
<rect x="1397.91" y="635.9" width="4.30" height="35.1" fill="#32cd32" fill-opacity="0.42"/>
<rect x="1403.00" y="630.3" width="4.30" height="40.7" fill="#3cb371" fill-opacity="0.42"/>
<rect x="1408.09" y="628.4" width="4.30" height="42.6" fill="#3cb371" fill-opacity="0.42"/>
</g>
<path d="M1867.0 3V783" stroke="#7b7e89" stroke-width="1.7" fill="none"/>
<path d="M2 580.0H1919" stroke="#7b7e89" stroke-width="1.6" fill="none"/>
<path d="M2 758.2H1919" stroke="#7b7e89" stroke-width="1.6" fill="none"/>
<rect x="1.5" y="2.4" width="1918" height="780.3" fill="none" stroke="#5b5e69" stroke-width="1.5"/>
<defs><clipPath id="axclip"><rect x="1868" y="3.3" width="51" height="776"/></clipPath></defs>
<g font-size="10.4" fill="#50535e" clip-path="url(#axclip)">
<path d="M1867.0 565.3h4" stroke="#7b7e89" stroke-width="1.2"/>
<text x="1873.8" y="569.1" textLength="37" lengthAdjust="spacingAndGlyphs">7265.00</text>
<path d="M1867.0 534.2h4" stroke="#7b7e89" stroke-width="1.2"/>
<text x="1873.8" y="538.0" textLength="37" lengthAdjust="spacingAndGlyphs">7270.00</text>
<path d="M1867.0 503.0h4" stroke="#7b7e89" stroke-width="1.2"/>
<text x="1873.8" y="506.8" textLength="37" lengthAdjust="spacingAndGlyphs">7275.00</text>
<path d="M1867.0 471.9h4" stroke="#7b7e89" stroke-width="1.2"/>
<text x="1873.8" y="475.7" textLength="37" lengthAdjust="spacingAndGlyphs">7280.00</text>
<path d="M1867.0 440.7h4" stroke="#7b7e89" stroke-width="1.2"/>
<text x="1873.8" y="444.5" textLength="37" lengthAdjust="spacingAndGlyphs">7285.00</text>
<path d="M1867.0 409.6h4" stroke="#7b7e89" stroke-width="1.2"/>
<text x="1873.8" y="413.4" textLength="37" lengthAdjust="spacingAndGlyphs">7290.00</text>
<path d="M1867.0 378.4h4" stroke="#7b7e89" stroke-width="1.2"/>
<text x="1873.8" y="382.2" textLength="37" lengthAdjust="spacingAndGlyphs">7295.00</text>
<path d="M1867.0 347.2h4" stroke="#7b7e89" stroke-width="1.2"/>
<text x="1873.8" y="351.1" textLength="37" lengthAdjust="spacingAndGlyphs">7300.00</text>
<path d="M1867.0 316.1h4" stroke="#7b7e89" stroke-width="1.2"/>
<text x="1873.8" y="319.9" textLength="37" lengthAdjust="spacingAndGlyphs">7305.00</text>
<path d="M1867.0 285.0h4" stroke="#7b7e89" stroke-width="1.2"/>
<text x="1873.8" y="288.8" textLength="37" lengthAdjust="spacingAndGlyphs">7310.00</text>
<path d="M1867.0 253.8h4" stroke="#7b7e89" stroke-width="1.2"/>
<text x="1873.8" y="257.6" textLength="37" lengthAdjust="spacingAndGlyphs">7315.00</text>
<path d="M1867.0 222.7h4" stroke="#7b7e89" stroke-width="1.2"/>
<text x="1873.8" y="226.5" textLength="37" lengthAdjust="spacingAndGlyphs">7320.00</text>
<path d="M1867.0 191.5h4" stroke="#7b7e89" stroke-width="1.2"/>
<text x="1873.8" y="195.3" textLength="37" lengthAdjust="spacingAndGlyphs">7325.00</text>
<path d="M1867.0 160.4h4" stroke="#7b7e89" stroke-width="1.2"/>
<text x="1873.8" y="164.2" textLength="37" lengthAdjust="spacingAndGlyphs">7330.00</text>
<path d="M1867.0 129.2h4" stroke="#7b7e89" stroke-width="1.2"/>
<text x="1873.8" y="133.0" textLength="37" lengthAdjust="spacingAndGlyphs">7335.00</text>
<path d="M1867.0 98.1h4" stroke="#7b7e89" stroke-width="1.2"/>
<text x="1873.8" y="101.9" textLength="37" lengthAdjust="spacingAndGlyphs">7340.00</text>
<path d="M1867.0 66.9h4" stroke="#7b7e89" stroke-width="1.2"/>
<text x="1873.8" y="70.7" textLength="37" lengthAdjust="spacingAndGlyphs">7345.00</text>
<path d="M1867.0 35.8h4" stroke="#7b7e89" stroke-width="1.2"/>
<text x="1873.8" y="39.5" textLength="37" lengthAdjust="spacingAndGlyphs">7350.00</text>
<path d="M1867.0 4.6h4" stroke="#7b7e89" stroke-width="1.2"/>
<text x="1873.8" y="8.4" textLength="37" lengthAdjust="spacingAndGlyphs">7355.00</text>
<path d="M1867.0 598.4h4" stroke="#7b7e89" stroke-width="1.2"/>
<text x="1873.8" y="602.2">1.00</text>
<path d="M1867.0 634.7h4" stroke="#7b7e89" stroke-width="1.2"/>
<text x="1873.8" y="638.5">0.50</text>
<path d="M1867.0 671.0h4" stroke="#7b7e89" stroke-width="1.2"/>
<text x="1873.8" y="674.8">0.00</text>
<path d="M1867.0 707.3h4" stroke="#7b7e89" stroke-width="1.2"/>
<text x="1873.8" y="711.1">−0.50</text>
<path d="M1867.0 743.6h4" stroke="#7b7e89" stroke-width="1.2"/>
<text x="1873.8" y="747.4">−1.00</text>
</g>
<rect x="1867.8" y="94.6" width="52.2" height="15.4" fill="#f7a1ad"/>
<rect x="1867.8" y="110" width="52.2" height="15.5" fill="#3cb371"/>
<path d="M1867.0 102.3h4" stroke="#333" stroke-width="1.2"/><path d="M1867.0 117.8h4" stroke="#fff" stroke-width="1.2"/>
<text x="1873.8" y="106.2" font-size="10.4" font-weight="bold" fill="#222" textLength="38" lengthAdjust="spacingAndGlyphs">7339.25</text>
<text x="1873.8" y="121.6" font-size="10.4" fill="#fff" textLength="37" lengthAdjust="spacingAndGlyphs">7338.50</text>
<g font-size="10.4" fill="#50535e" text-anchor="middle">
<path d="M45.3 758.2v-3" stroke="#7b7e89" stroke-width="1.2"/>
<text x="45.3" y="775.2">14:30</text>
<path d="M116.0 758.2v-3" stroke="#7b7e89" stroke-width="1.2"/>
<text x="116.0" y="775.2">14:40</text>
<path d="M248.3 758.2v-3" stroke="#7b7e89" stroke-width="1.2"/>
<text x="248.3" y="775.2">15:00</text>
<path d="M325.7 758.2v-3" stroke="#7b7e89" stroke-width="1.2"/>
<text x="325.7" y="775.2">15:10</text>
<path d="M462.3 758.2v-3" stroke="#7b7e89" stroke-width="1.2"/>
<text x="462.3" y="775.2">15:30</text>
<path d="M544.3 758.2v-3" stroke="#7b7e89" stroke-width="1.2"/>
<text x="544.3" y="775.2">15:40</text>
<path d="M621.3 758.2v-3" stroke="#7b7e89" stroke-width="1.2"/>
<text x="621.3" y="775.2">15:50</text>
<path d="M707.3 758.2v-3" stroke="#7b7e89" stroke-width="1.2"/>
<text x="707.3" y="775.2">16:00</text>
<path d="M814.3 758.2v-3" stroke="#7b7e89" stroke-width="1.2"/>
<text x="814.3" y="775.2">18:00</text>
<path d="M921.3 758.2v-3" stroke="#7b7e89" stroke-width="1.2"/>
<text x="921.3" y="775.2">19:00</text>
<path d="M997.3 758.2v-3" stroke="#7b7e89" stroke-width="1.2"/>
<text x="997.3" y="775.2">20:00</text>
<path d="M1120.3 758.2v-3" stroke="#7b7e89" stroke-width="1.2"/>
<text x="1120.3" y="775.2">21:00</text>
<path d="M1258.3 758.2v-3" stroke="#7b7e89" stroke-width="1.2"/>
<text x="1258.3" y="775.2">22:00</text>
<path d="M1329.3 758.2v-3" stroke="#7b7e89" stroke-width="1.2"/>
<text x="1329.3" y="775.2">22:36</text>
<path d="M1410.7 758.2v-3" stroke="#7b7e89" stroke-width="1.2"/>
<text x="1410.7" y="775.2" font-weight="bold" fill="#333">24</text>
<path d="M1522.7 758.2v-3" stroke="#7b7e89" stroke-width="1.2"/>
<text x="1522.7" y="775.2">01:00</text>
<path d="M1599.3 758.2v-3" stroke="#7b7e89" stroke-width="1.2"/>
<text x="1599.3" y="775.2">01:15</text>
<path d="M1675.3 758.2v-3" stroke="#7b7e89" stroke-width="1.2"/>
<text x="1675.3" y="775.2">01:30</text>
<path d="M1751.7 758.2v-3" stroke="#7b7e89" stroke-width="1.2"/>
<text x="1751.7" y="775.2">01:45</text>
<path d="M1828.3 758.2v-3" stroke="#7b7e89" stroke-width="1.2"/>
<text x="1828.3" y="775.2">02:00</text>
</g>
<text x="9.3" y="20.8" font-size="10.4" font-weight="bold" fill="#4b4f5c" textLength="378" lengthAdjust="spacingAndGlyphs">NASDAQ 100 E-MINI FUTURES - MICRO (JUN 2019), 10R, CME_MINI, Range</text>
<text x="9.3" y="35.6" font-size="10.4" fill="#5a5d68" textLength="113" lengthAdjust="spacingAndGlyphs">[RS]MMLC (100, 0.125)</text>
<text x="9.3" y="50.6" font-size="10.4" fill="#5a5d68" textLength="125" lengthAdjust="spacingAndGlyphs">LAX_MML (1.23, 125, 64)</text>
<text x="9.3" y="598.7" font-size="10.4" fill="#5a5d68" textLength="122" lengthAdjust="spacingAndGlyphs">UCS_MMLO (100, 0.125)</text>
</svg>
</body></html>
